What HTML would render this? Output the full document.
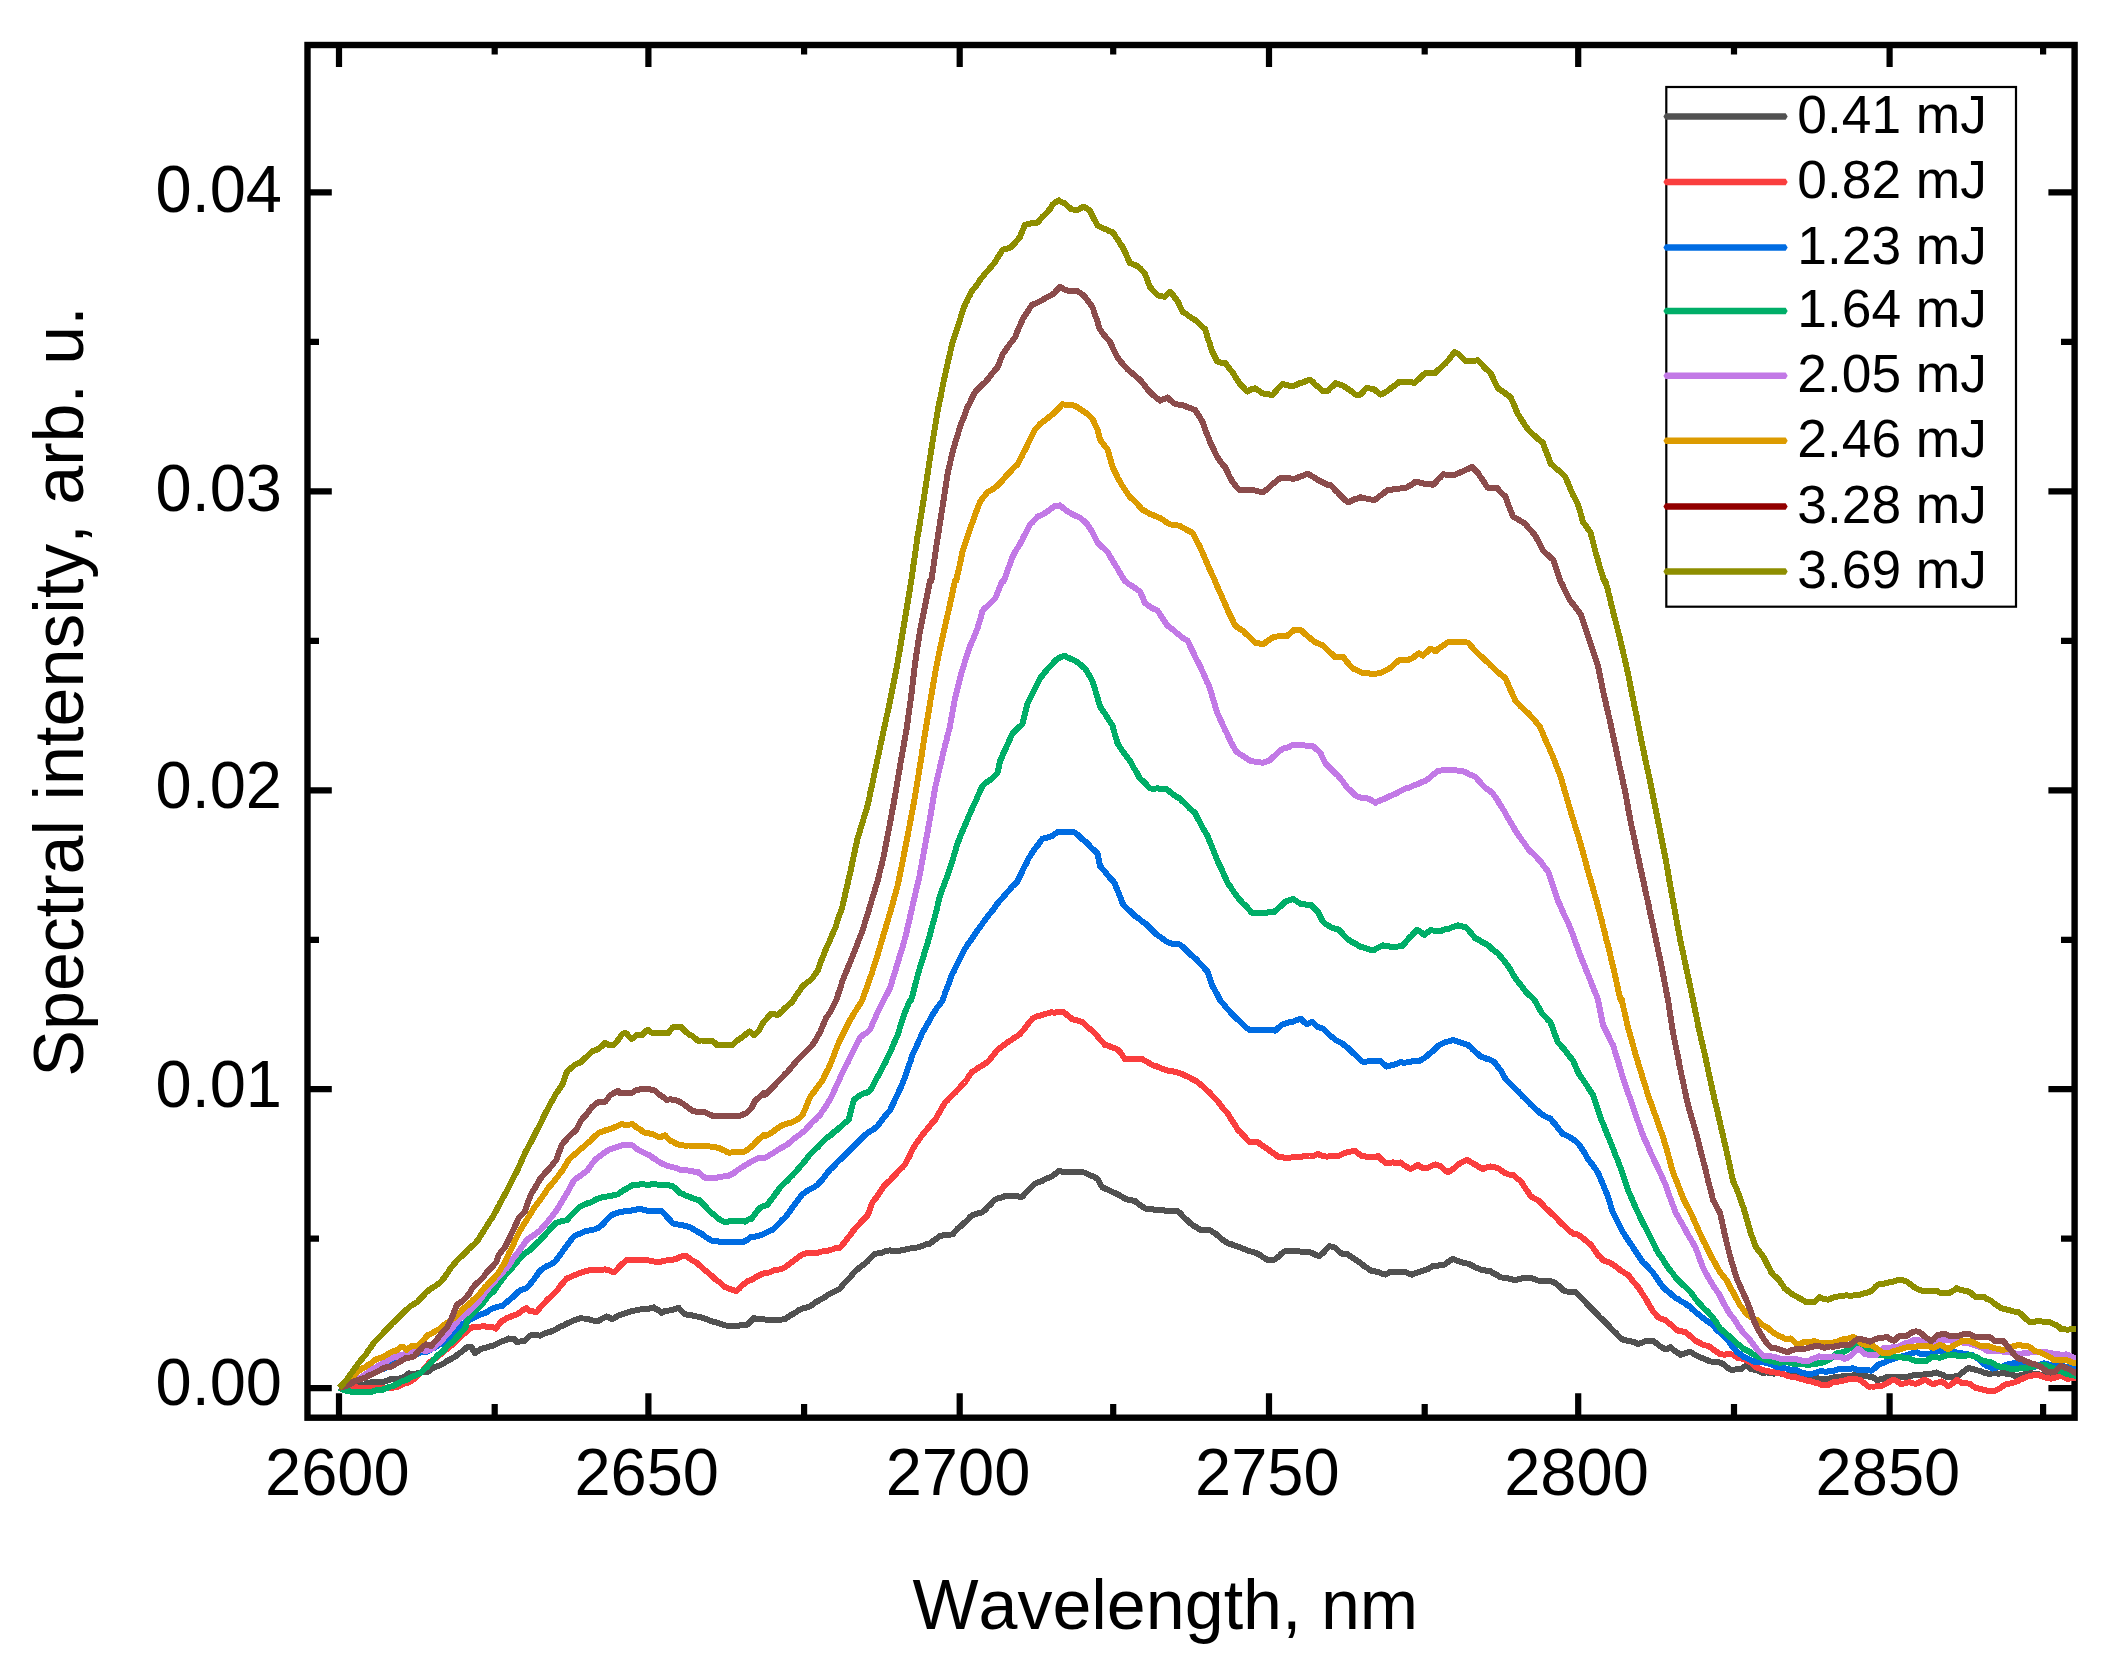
<!DOCTYPE html>
<html lang="en"><head><meta charset="utf-8"><title>Spectral intensity vs wavelength</title>
<style>html,body{margin:0;padding:0;background:#fff}body{width:2112px;height:1677px;overflow:hidden}svg{display:block}</style>
</head><body>
<svg width="2112" height="1677" viewBox="0 0 2112 1677">
<rect width="2112" height="1677" fill="#fff"/>
<path d="M339.0,1417.7V1393.2M339.0,45.0V66.9M494.7,1417.7V1404.0M494.7,45.0V54.4M648.4,1417.7V1393.2M648.4,45.0V66.9M804.1,1417.7V1404.0M804.1,45.0V54.4M959.7,1417.7V1393.2M959.7,45.0V66.9M1113.2,1417.7V1404.0M1113.2,45.0V54.4M1269.0,1417.7V1393.2M1269.0,45.0V66.9M1424.7,1417.7V1404.0M1424.7,45.0V54.4M1578.2,1417.7V1393.2M1578.2,45.0V66.9M1734.0,1417.7V1404.0M1734.0,45.0V54.4M1889.6,1417.7V1393.2M1889.6,45.0V66.9M2043.1,1417.7V1404.0M2043.1,45.0V54.4M307.5,1388.2H331.8M2074.6,1388.2H2048.4M307.5,1238.7H319.0M2074.6,1238.7H2061.0M307.5,1089.2H331.8M2074.6,1089.2H2048.4M307.5,939.8H319.0M2074.6,939.8H2061.0M307.5,790.3H331.8M2074.6,790.3H2048.4M307.5,640.8H319.0M2074.6,640.8H2061.0M307.5,491.4H331.8M2074.6,491.4H2048.4M307.5,341.9H319.0M2074.6,341.9H2061.0M307.5,192.4H331.8M2074.6,192.4H2048.4" stroke="#000" stroke-width="6.2" fill="none"/>
<rect x="307.5" y="45.0" width="1767.1" height="1372.7" fill="none" stroke="#000" stroke-width="6.4"/>
<clipPath id="c"><rect x="307.5" y="45.0" width="1768.5" height="1372.7"/></clipPath>
<g clip-path="url(#c)" fill="none" stroke-width="6.0" stroke-linejoin="round" stroke-linecap="butt" shape-rendering="crispEdges">
<polyline stroke="#515151" points="339.1,1387.9 342.6,1387.5 346.1,1387.5 349.7,1387.4 353.2,1386.4 356.7,1386.3 360.5,1385.4 364.4,1384.4 368.2,1382.9 372.0,1382.3 375.8,1382.2 379.6,1382.5 383.4,1381.9 387.3,1380.6 391.1,1379.1 394.9,1378.9 398.7,1378.6 402.5,1377.6 405.4,1376.1 408.2,1373.4 412.1,1373.6 415.9,1373.6 419.7,1372.5 423.5,1372.3 427.3,1371.8 429.9,1370.6 432.4,1368.4 435.0,1366.9 438.1,1366.0 441.3,1364.7 444.5,1363.0 447.4,1360.8 450.2,1359.5 452.8,1357.8 455.3,1356.6 457.9,1354.4 460.7,1352.4 463.6,1350.1 467.4,1347.0 471.2,1346.6 473.1,1350.0 475.0,1353.1 477.9,1351.2 480.8,1348.7 484.6,1348.3 488.4,1346.9 492.2,1345.8 496.0,1344.5 499.4,1342.5 502.7,1341.2 505.6,1340.2 508.4,1338.5 511.3,1338.7 514.2,1339.0 517.0,1342.2 520.8,1341.3 524.7,1341.1 527.3,1338.3 530.0,1335.5 533.3,1335.0 536.7,1335.3 540.0,1335.6 543.2,1334.1 546.3,1332.7 549.5,1332.1 552.6,1330.9 555.8,1329.4 559.4,1327.0 563.0,1325.7 566.6,1323.7 569.9,1322.3 573.2,1320.7 576.5,1319.5 579.8,1318.4 583.3,1318.5 586.9,1318.6 590.8,1320.0 594.8,1320.9 598.8,1320.7 602.6,1318.5 606.4,1316.4 609.2,1317.6 612.1,1319.3 614.9,1317.7 617.8,1315.6 621.6,1314.4 625.4,1313.1 629.2,1312.0 632.9,1310.9 636.9,1310.1 640.8,1309.4 644.8,1309.4 648.7,1308.7 651.2,1308.0 653.8,1307.3 656.3,1309.2 658.9,1310.4 661.4,1312.8 664.8,1311.2 668.2,1310.7 671.6,1310.0 675.0,1309.0 678.5,1307.7 681.3,1310.7 684.2,1313.8 687.9,1315.0 691.7,1315.4 695.5,1316.3 699.3,1316.9 703.1,1317.9 706.9,1319.3 710.7,1321.0 713.8,1321.9 716.9,1322.7 720.0,1323.7 722.9,1324.6 725.8,1325.5 728.8,1326.2 732.5,1326.5 736.2,1326.2 740.0,1325.4 743.8,1325.0 747.5,1324.6 750.6,1321.6 753.8,1318.2 757.5,1319.0 761.2,1319.3 765.0,1319.5 768.8,1320.2 772.5,1320.0 776.7,1319.7 780.8,1319.7 785.0,1319.0 787.8,1317.2 790.5,1315.2 793.2,1314.0 796.0,1312.2 798.8,1310.0 802.5,1308.6 806.2,1307.5 810.0,1306.3 812.9,1304.4 815.8,1302.2 818.8,1300.6 821.7,1298.9 824.6,1297.2 827.5,1295.1 830.6,1293.4 833.8,1291.9 836.9,1290.3 840.0,1288.7 842.5,1285.4 845.0,1282.5 847.5,1280.2 850.0,1277.5 852.5,1274.3 855.0,1271.5 858.3,1268.6 861.7,1266.0 865.0,1263.6 867.5,1261.4 870.0,1258.4 872.5,1256.1 875.0,1254.0 878.8,1253.1 882.5,1252.5 886.2,1250.8 890.0,1250.4 893.8,1251.2 897.5,1251.0 901.0,1250.4 904.5,1250.0 908.0,1248.8 911.5,1248.3 915.0,1247.9 918.8,1247.1 922.5,1245.8 926.2,1244.3 930.0,1243.6 933.3,1240.9 936.7,1238.6 940.0,1236.0 943.1,1235.3 946.2,1234.9 949.4,1234.7 952.5,1234.4 955.0,1231.6 957.5,1228.7 960.0,1226.8 962.5,1224.3 965.0,1222.2 967.5,1220.1 970.0,1217.1 972.5,1215.1 975.8,1214.0 979.2,1213.1 982.5,1212.2 985.0,1209.9 987.5,1207.2 990.0,1204.9 992.5,1202.2 995.0,1199.6 998.3,1198.3 1001.7,1197.5 1005.0,1196.0 1008.5,1195.8 1012.0,1195.9 1015.5,1195.8 1019.0,1196.6 1022.5,1196.7 1025.0,1193.6 1027.5,1191.0 1030.0,1188.6 1032.5,1186.2 1035.0,1183.6 1038.5,1182.2 1042.0,1181.0 1045.5,1179.0 1049.0,1177.7 1052.5,1175.9 1055.6,1173.6 1058.8,1171.0 1062.5,1171.7 1066.2,1172.1 1070.0,1172.5 1073.8,1172.2 1077.5,1172.4 1081.2,1172.1 1085.0,1172.6 1088.1,1174.4 1091.2,1175.7 1094.4,1177.0 1097.5,1178.9 1099.2,1181.9 1100.8,1184.9 1102.5,1187.5 1105.7,1188.8 1108.9,1190.3 1112.1,1191.8 1115.4,1193.2 1118.6,1194.8 1121.8,1196.8 1125.0,1198.5 1128.3,1199.9 1131.7,1200.4 1135.0,1200.9 1138.3,1204.0 1141.7,1206.0 1145.0,1208.5 1148.8,1209.2 1152.5,1209.3 1156.2,1210.1 1160.0,1210.5 1163.5,1210.3 1167.0,1210.9 1170.5,1211.4 1174.0,1211.3 1177.5,1211.0 1180.0,1213.0 1182.5,1215.8 1185.0,1218.4 1187.5,1220.6 1190.0,1222.9 1193.3,1225.5 1196.7,1227.5 1200.0,1229.7 1203.3,1230.3 1206.7,1230.5 1210.0,1230.2 1213.0,1232.1 1216.0,1234.1 1219.0,1236.6 1222.0,1239.4 1225.0,1241.3 1228.0,1243.5 1231.8,1244.4 1235.5,1246.0 1239.2,1246.9 1243.0,1248.7 1246.5,1250.0 1250.0,1251.2 1253.5,1252.2 1257.0,1253.4 1260.5,1255.3 1263.0,1257.2 1265.5,1258.8 1268.0,1259.9 1271.1,1259.7 1274.2,1259.7 1276.8,1258.0 1279.2,1256.1 1281.8,1253.4 1284.2,1251.4 1287.6,1251.2 1291.0,1251.2 1294.4,1250.9 1297.8,1251.3 1301.2,1251.6 1304.6,1251.9 1308.0,1251.5 1311.8,1253.0 1315.5,1254.8 1319.2,1255.9 1321.8,1254.0 1324.2,1251.6 1326.8,1248.7 1329.2,1246.1 1332.4,1246.8 1335.5,1247.8 1338.6,1251.0 1341.8,1253.7 1344.9,1254.2 1348.0,1254.4 1351.3,1256.9 1354.7,1259.0 1358.0,1261.4 1361.1,1263.4 1364.2,1266.1 1367.4,1268.0 1370.5,1270.5 1374.2,1271.2 1378.0,1272.0 1381.8,1273.5 1385.5,1274.6 1388.0,1273.3 1390.5,1271.8 1394.2,1271.8 1398.0,1272.1 1401.8,1271.9 1405.5,1272.0 1408.6,1273.6 1411.8,1274.7 1415.2,1273.4 1418.6,1272.2 1422.1,1270.9 1425.5,1269.9 1429.2,1268.4 1433.0,1265.9 1436.3,1265.7 1439.7,1265.4 1443.0,1265.4 1446.3,1263.3 1449.7,1260.8 1453.0,1258.8 1456.8,1260.5 1460.5,1261.9 1464.2,1263.1 1468.0,1263.6 1471.3,1265.2 1474.7,1267.0 1478.0,1268.5 1481.1,1269.6 1484.2,1270.1 1487.4,1271.2 1490.5,1271.0 1493.8,1273.5 1497.2,1275.1 1500.5,1277.4 1504.2,1277.7 1508.0,1278.4 1511.8,1279.4 1515.5,1280.5 1518.6,1279.1 1521.8,1278.5 1524.9,1277.6 1528.0,1277.5 1531.1,1278.1 1534.2,1278.9 1537.4,1280.4 1540.5,1280.8 1544.7,1281.5 1548.8,1281.1 1553.0,1281.7 1555.8,1283.6 1558.6,1285.8 1561.4,1288.5 1564.2,1291.0 1568.0,1291.7 1571.8,1291.9 1575.5,1292.2 1578.0,1294.4 1580.5,1296.9 1583.0,1299.3 1585.5,1302.1 1588.0,1305.2 1590.5,1307.6 1593.0,1309.9 1595.5,1312.4 1598.0,1315.2 1600.5,1317.9 1603.0,1319.8 1605.5,1322.6 1608.0,1324.8 1610.5,1327.8 1613.0,1330.3 1615.5,1332.7 1618.0,1335.3 1620.5,1337.8 1623.0,1339.8 1626.8,1340.6 1630.5,1341.2 1634.2,1342.2 1638.0,1343.9 1641.8,1342.7 1645.5,1341.0 1649.2,1340.9 1653.0,1341.0 1656.1,1342.9 1659.2,1345.7 1662.4,1347.7 1665.5,1349.5 1668.0,1348.6 1670.5,1347.3 1673.8,1350.2 1677.2,1352.4 1680.5,1354.7 1683.7,1353.8 1686.8,1352.8 1690.0,1351.5 1693.0,1353.5 1696.1,1355.4 1699.5,1357.0 1702.9,1358.4 1706.3,1359.7 1709.7,1361.4 1712.7,1361.7 1715.8,1362.1 1718.8,1362.4 1721.8,1363.1 1724.1,1364.9 1726.4,1366.9 1730.2,1369.6 1733.9,1369.6 1737.7,1369.2 1741.5,1368.9 1744.5,1366.4 1748.3,1366.3 1750.6,1368.8 1754.4,1369.7 1758.2,1370.5 1762.7,1372.8 1766.3,1372.4 1769.8,1372.9 1773.3,1373.6 1778.6,1373.2 1782.1,1373.9 1785.6,1374.9 1789.1,1374.7 1792.6,1375.2 1796.1,1375.9 1799.8,1376.4 1803.6,1376.4 1807.4,1377.4 1811.2,1377.9 1814.7,1378.2 1818.3,1378.5 1821.8,1378.9 1825.6,1379.5 1830.2,1378.3 1833.4,1377.4 1836.7,1376.9 1840.0,1376.7 1843.4,1376.3 1846.8,1375.9 1850.0,1376.0 1853.2,1375.4 1856.4,1375.3 1860.2,1375.8 1864.0,1376.4 1867.9,1376.5 1871.7,1376.6 1874.3,1378.2 1876.8,1380.3 1880.2,1379.3 1883.6,1378.5 1887.0,1376.9 1890.5,1376.9 1893.9,1377.4 1897.3,1377.3 1900.7,1376.8 1904.1,1377.1 1907.5,1376.6 1910.9,1375.8 1914.3,1375.2 1917.7,1375.2 1921.1,1374.8 1925.4,1374.3 1929.7,1374.4 1933.1,1373.2 1936.5,1372.5 1939.5,1373.8 1942.4,1374.6 1945.4,1376.5 1948.4,1377.5 1951.8,1376.7 1955.2,1376.4 1958.6,1375.6 1961.2,1373.5 1963.8,1371.5 1966.3,1369.5 1968.9,1367.9 1973.1,1369.2 1977.4,1370.4 1980.8,1371.2 1984.2,1372.7 1987.6,1373.6 1991.3,1373.6 1995.0,1373.0 1998.7,1373.7 2002.4,1373.1 2006.1,1373.6 2009.8,1373.7 2013.2,1375.2 2016.6,1376.7 2019.4,1375.7 2022.3,1374.7 2025.1,1373.9 2028.5,1373.4 2031.9,1373.4 2035.3,1374.2 2038.8,1374.4 2042.2,1375.0 2045.6,1375.2 2049.0,1375.1 2052.4,1376.1 2056.2,1375.7 2060.1,1375.7 2063.9,1376.1 2067.7,1376.5 2071.6,1376.6 2075.4,1376.8 2077.5,1376.2"/>
<polyline stroke="#FA3E3E" points="339.1,1387.9 342.8,1387.4 346.5,1387.7 350.2,1387.4 353.9,1387.0 357.7,1387.5 361.5,1387.8 365.3,1388.0 368.5,1388.1 371.8,1388.0 375.0,1388.0 378.3,1388.5 381.5,1388.4 385.3,1388.2 389.2,1387.9 393.0,1387.6 396.8,1387.3 400.6,1385.2 404.4,1383.5 408.2,1382.5 412.1,1380.3 415.9,1377.6 418.7,1374.7 421.6,1371.8 424.1,1369.1 426.7,1365.8 429.2,1362.9 432.1,1360.3 435.0,1358.8 437.8,1356.2 440.7,1354.2 443.5,1351.7 446.4,1349.4 449.3,1347.0 452.1,1344.8 455.0,1342.3 457.9,1339.6 461.7,1336.0 464.5,1333.3 467.4,1330.9 470.3,1328.5 473.1,1326.9 476.9,1327.0 480.8,1326.5 484.6,1326.4 488.4,1326.8 492.2,1326.8 496.0,1328.6 498.4,1325.3 500.8,1321.7 503.7,1320.2 506.5,1318.3 509.7,1317.1 512.9,1315.6 516.1,1314.7 518.6,1313.3 521.2,1311.5 523.7,1309.4 526.6,1308.2 530.0,1311.0 533.1,1311.3 536.2,1312.3 538.5,1309.7 540.8,1306.8 543.0,1304.7 545.3,1302.0 547.6,1299.5 550.3,1297.1 553.0,1294.5 555.8,1291.7 557.9,1289.4 560.1,1286.2 562.2,1283.7 564.4,1281.3 566.6,1278.4 569.9,1277.4 573.3,1275.6 576.7,1274.3 580.1,1272.9 583.5,1271.7 586.9,1270.8 590.4,1270.2 594.0,1270.0 597.6,1270.5 601.1,1270.0 604.7,1269.4 608.3,1270.1 611.1,1271.4 614.0,1272.2 616.6,1269.8 619.3,1266.9 621.9,1264.2 624.6,1262.0 627.3,1259.5 630.8,1259.5 634.4,1259.6 638.0,1259.9 641.5,1259.9 645.1,1259.7 648.7,1260.4 651.7,1261.2 654.6,1261.6 657.6,1262.1 661.4,1261.5 665.2,1260.7 669.0,1259.9 672.8,1259.7 676.1,1259.0 679.4,1257.3 682.7,1256.1 686.1,1255.6 688.7,1257.9 691.4,1259.8 694.0,1261.2 696.7,1262.7 699.3,1265.1 702.2,1267.8 705.0,1270.2 707.9,1272.5 710.7,1275.1 713.0,1276.9 715.4,1279.3 717.7,1280.9 720.0,1282.6 723.8,1286.4 726.9,1287.8 730.0,1289.2 733.1,1289.8 736.2,1291.0 739.1,1288.7 741.9,1285.8 744.7,1283.4 747.5,1281.2 750.5,1280.2 753.5,1278.7 756.5,1276.8 759.5,1275.2 762.5,1273.7 766.2,1273.0 770.0,1272.3 773.8,1270.4 777.5,1269.9 781.2,1269.0 785.0,1267.2 788.1,1264.9 791.2,1262.5 794.4,1260.2 797.5,1257.8 800.6,1255.5 803.8,1253.7 807.2,1253.3 810.6,1252.6 814.1,1253.0 817.5,1252.9 821.2,1251.6 825.0,1251.2 828.8,1250.4 832.5,1249.4 836.2,1248.0 840.0,1247.6 842.1,1245.2 844.3,1242.6 846.4,1240.1 848.6,1236.8 850.7,1234.5 852.9,1231.3 855.0,1228.6 857.5,1225.9 860.0,1223.3 862.5,1220.6 865.0,1218.1 867.5,1215.4 868.8,1212.3 870.0,1209.1 871.2,1205.7 872.5,1202.2 874.6,1199.6 876.7,1197.0 878.8,1193.7 880.8,1191.2 882.9,1187.7 885.0,1184.8 887.5,1182.6 890.0,1180.3 892.5,1177.7 895.0,1174.9 897.5,1172.2 900.0,1169.6 902.5,1167.4 905.0,1164.5 906.7,1161.2 908.3,1158.3 910.0,1154.9 911.7,1151.3 913.3,1148.1 915.0,1145.2 917.5,1141.8 920.0,1138.2 922.5,1134.6 925.0,1131.8 927.5,1128.7 930.0,1125.7 932.5,1122.5 935.0,1119.9 936.7,1117.2 938.3,1114.2 940.0,1111.4 941.7,1108.2 943.3,1105.7 945.0,1102.5 947.5,1100.4 950.0,1097.2 952.5,1095.0 955.0,1092.8 957.5,1090.2 960.0,1087.3 962.5,1084.6 964.5,1082.5 966.5,1080.0 968.5,1076.8 970.5,1073.9 972.5,1071.5 975.5,1070.0 978.5,1067.5 981.5,1065.9 984.5,1064.0 987.5,1062.0 990.0,1059.3 992.5,1056.2 995.0,1052.9 997.5,1050.1 1000.3,1047.8 1003.1,1045.7 1005.9,1043.6 1008.8,1041.4 1011.6,1040.0 1014.4,1037.7 1017.2,1036.2 1020.0,1034.1 1022.5,1030.9 1025.0,1028.2 1027.5,1024.8 1030.0,1021.4 1032.5,1018.7 1036.2,1016.6 1040.0,1015.7 1043.8,1014.3 1047.5,1013.4 1051.2,1012.4 1055.0,1012.6 1058.8,1011.6 1062.5,1011.7 1065.8,1013.9 1069.2,1016.7 1072.5,1019.3 1075.8,1019.9 1079.2,1021.0 1082.5,1022.3 1085.0,1024.3 1087.5,1027.1 1090.0,1028.9 1092.5,1030.9 1095.0,1033.6 1097.5,1036.3 1100.0,1039.6 1102.5,1042.0 1105.0,1045.0 1108.1,1045.5 1111.2,1047.0 1114.4,1048.2 1117.5,1049.4 1120.0,1052.0 1122.5,1055.5 1125.0,1059.0 1128.5,1058.7 1132.0,1058.9 1135.5,1058.6 1139.0,1058.8 1142.5,1059.2 1145.0,1060.9 1147.5,1062.1 1150.0,1063.5 1153.0,1065.4 1156.0,1066.1 1159.0,1067.4 1162.0,1068.6 1165.0,1069.8 1168.5,1070.7 1172.0,1071.1 1175.5,1072.0 1179.0,1073.1 1182.5,1074.2 1185.5,1075.7 1188.5,1077.1 1191.5,1078.7 1194.5,1080.3 1197.5,1081.9 1200.6,1084.6 1203.8,1087.2 1206.9,1090.3 1210.0,1092.9 1212.2,1095.7 1214.5,1098.0 1216.8,1100.3 1219.0,1103.1 1221.2,1105.9 1223.5,1108.9 1225.8,1111.1 1228.0,1114.0 1230.0,1117.4 1232.0,1120.4 1234.0,1123.6 1236.0,1126.5 1238.0,1130.0 1240.8,1132.4 1243.6,1135.7 1246.4,1138.7 1249.2,1141.7 1253.6,1142.4 1258.0,1142.3 1261.3,1144.9 1264.7,1147.0 1268.0,1149.3 1271.3,1151.9 1274.7,1154.0 1278.0,1156.7 1282.4,1157.0 1286.8,1158.5 1291.1,1157.5 1295.5,1156.8 1299.0,1156.5 1302.5,1156.5 1306.0,1156.1 1309.5,1156.5 1313.0,1156.4 1315.5,1154.8 1318.0,1153.9 1320.5,1155.2 1323.0,1156.2 1326.8,1156.6 1330.5,1156.3 1334.2,1156.5 1338.0,1156.4 1341.3,1154.7 1344.7,1153.1 1348.0,1151.8 1351.8,1151.4 1355.5,1151.2 1358.6,1153.6 1361.8,1156.3 1365.1,1156.3 1368.4,1157.2 1371.8,1157.4 1374.9,1157.3 1378.0,1156.0 1380.5,1158.6 1383.0,1160.8 1385.5,1163.0 1389.2,1162.9 1393.0,1162.4 1396.8,1163.0 1400.5,1162.4 1403.8,1165.0 1407.2,1167.1 1410.5,1169.1 1414.2,1167.0 1418.0,1164.7 1421.1,1167.0 1424.2,1168.5 1428.0,1167.7 1431.8,1165.9 1435.5,1164.4 1440.5,1166.1 1443.0,1168.7 1445.5,1170.7 1448.0,1172.3 1451.3,1170.3 1454.7,1167.8 1458.0,1164.7 1460.9,1162.8 1463.8,1161.3 1466.8,1159.9 1470.5,1161.9 1474.2,1164.1 1477.2,1165.7 1480.1,1167.7 1483.0,1168.9 1486.8,1167.4 1490.5,1166.4 1493.6,1167.4 1496.8,1167.6 1499.7,1169.2 1502.6,1171.4 1505.5,1173.3 1509.2,1174.6 1513.0,1174.9 1515.5,1177.0 1518.0,1179.2 1520.5,1180.9 1522.5,1183.8 1524.5,1187.0 1526.5,1190.0 1528.5,1192.8 1530.5,1196.2 1534.2,1198.4 1538.0,1200.2 1540.5,1202.3 1543.0,1205.2 1545.5,1208.0 1548.0,1209.9 1550.5,1212.6 1553.0,1214.7 1555.5,1217.0 1558.0,1219.6 1560.5,1222.7 1563.0,1224.8 1565.5,1227.1 1568.0,1229.6 1570.5,1231.6 1573.0,1233.6 1578.0,1234.5 1581.1,1236.7 1584.2,1239.3 1587.4,1241.9 1590.5,1244.4 1592.4,1246.7 1594.2,1249.5 1596.1,1252.1 1598.0,1255.0 1600.5,1257.1 1603.0,1260.2 1606.8,1261.6 1610.5,1262.9 1613.8,1265.3 1617.2,1267.5 1620.5,1270.3 1623.0,1271.8 1625.5,1273.6 1628.0,1274.9 1630.5,1277.8 1633.0,1281.3 1635.5,1284.2 1638.0,1287.1 1639.9,1290.0 1641.8,1292.9 1643.6,1295.6 1645.5,1298.3 1647.4,1301.8 1649.2,1305.0 1651.1,1308.1 1653.0,1311.4 1655.5,1314.1 1658.0,1317.4 1661.8,1319.2 1665.5,1320.0 1668.0,1322.4 1670.5,1324.3 1673.0,1326.5 1675.5,1328.9 1678.0,1330.9 1681.8,1331.4 1685.5,1332.1 1687.8,1334.1 1690.0,1335.9 1693.0,1338.6 1696.1,1341.1 1699.5,1342.8 1702.9,1344.6 1706.3,1345.6 1709.7,1346.6 1712.3,1348.8 1715.0,1350.7 1717.7,1352.5 1720.3,1354.1 1724.3,1354.7 1728.4,1354.0 1732.4,1354.6 1734.7,1355.7 1737.0,1357.7 1740.0,1357.7 1743.0,1358.9 1746.1,1360.3 1749.1,1361.9 1752.9,1363.7 1756.7,1367.6 1759.7,1368.7 1762.7,1370.1 1768.0,1371.1 1773.3,1372.3 1777.1,1372.8 1780.9,1373.5 1784.7,1374.5 1788.5,1376.4 1792.3,1376.7 1796.1,1377.2 1799.1,1378.4 1802.1,1379.1 1805.2,1380.0 1808.2,1381.2 1811.6,1381.4 1815.0,1382.6 1818.0,1383.2 1821.1,1384.8 1824.8,1385.1 1828.6,1384.9 1831.3,1383.3 1833.9,1381.8 1837.7,1381.7 1841.5,1381.1 1845.8,1380.1 1850.0,1378.7 1853.3,1378.6 1856.5,1379.4 1859.8,1379.7 1862.6,1381.9 1865.5,1384.2 1868.3,1386.6 1871.7,1386.5 1875.1,1386.5 1878.5,1385.9 1881.9,1385.6 1884.9,1384.5 1887.9,1382.8 1890.9,1380.9 1893.9,1379.6 1897.3,1381.6 1900.7,1383.8 1904.9,1383.4 1909.2,1382.2 1912.6,1383.3 1916.0,1383.9 1918.9,1382.5 1921.7,1381.2 1924.5,1379.6 1927.4,1381.0 1930.2,1382.7 1933.1,1384.2 1937.3,1382.7 1941.6,1381.5 1945.0,1383.6 1948.4,1386.3 1951.2,1384.3 1954.1,1382.1 1956.9,1380.0 1959.5,1381.4 1962.0,1383.3 1966.3,1383.2 1970.6,1384.0 1973.1,1386.3 1975.7,1388.0 1979.9,1388.8 1984.2,1390.1 1987.6,1390.7 1991.0,1391.0 1994.4,1390.9 1997.4,1389.6 2000.4,1388.1 2003.4,1385.8 2006.4,1384.1 2010.6,1383.4 2014.9,1382.3 2017.7,1381.1 2020.6,1379.5 2023.4,1378.3 2027.7,1376.6 2031.9,1375.8 2035.3,1374.6 2038.8,1374.6 2041.3,1376.1 2043.9,1377.3 2047.3,1377.9 2050.7,1378.7 2054.1,1377.9 2057.5,1376.7 2060.9,1375.5 2064.3,1377.4 2067.7,1379.0 2071.6,1378.1 2075.4,1377.6 2077.5,1377.6"/>
<polyline stroke="#006CE2" points="339.1,1387.9 342.3,1386.7 345.6,1385.5 348.8,1383.9 352.1,1382.4 355.4,1380.8 358.6,1380.0 361.8,1378.2 365.0,1376.5 368.2,1375.1 371.3,1373.8 374.5,1372.6 377.7,1371.2 380.9,1369.7 384.1,1368.5 387.3,1367.3 390.4,1366.0 393.6,1364.2 396.8,1362.4 400.0,1360.9 403.2,1359.7 406.3,1358.1 409.5,1357.2 412.7,1356.2 415.9,1354.6 420.6,1352.2 425.4,1352.2 428.6,1350.8 431.8,1349.0 435.0,1347.5 437.8,1345.4 440.7,1344.1 443.5,1342.5 446.4,1340.7 449.3,1338.0 452.1,1334.5 455.0,1331.7 457.2,1329.6 459.5,1327.5 461.7,1325.0 464.9,1322.7 468.0,1321.1 471.2,1318.8 475.0,1317.3 478.9,1314.9 482.7,1313.7 486.5,1312.4 489.4,1310.2 492.2,1308.5 495.4,1307.7 498.6,1306.6 501.8,1306.2 505.1,1303.5 508.4,1300.7 510.8,1298.7 513.2,1296.8 515.4,1294.7 517.7,1292.3 519.9,1290.5 523.2,1289.3 526.6,1288.1 530.0,1284.4 532.0,1281.8 534.0,1279.3 536.0,1276.4 538.0,1273.4 540.0,1270.8 543.2,1268.4 546.3,1266.4 549.5,1265.0 552.6,1263.3 555.8,1260.9 557.9,1257.7 560.1,1254.9 562.2,1252.1 564.4,1248.7 566.6,1245.8 569.1,1242.6 571.6,1239.2 574.1,1236.1 577.3,1234.7 580.5,1233.5 583.7,1231.8 586.9,1230.8 590.8,1230.3 594.8,1229.3 598.8,1227.7 601.5,1225.4 604.1,1222.8 606.8,1219.7 609.4,1217.1 612.1,1214.8 614.9,1213.8 617.8,1212.6 621.6,1211.8 625.4,1211.2 629.2,1211.1 632.9,1210.0 636.7,1209.5 640.5,1208.6 644.6,1210.1 648.7,1211.2 651.9,1210.7 655.0,1210.5 658.2,1210.8 661.4,1211.2 663.7,1213.2 665.9,1215.6 668.2,1218.2 670.5,1220.6 672.8,1223.5 676.3,1224.1 679.8,1224.9 683.9,1225.6 687.9,1226.5 690.8,1227.7 693.6,1229.4 696.5,1231.0 699.3,1232.7 702.2,1234.2 705.0,1236.7 707.9,1238.2 710.7,1240.2 713.8,1241.1 716.9,1241.2 720.0,1241.8 724.2,1241.5 728.3,1241.7 732.5,1241.8 735.8,1241.9 739.2,1242.1 742.5,1242.3 745.0,1241.1 747.5,1239.7 750.0,1237.4 753.1,1237.0 756.2,1236.3 759.4,1235.6 762.5,1234.5 765.8,1233.0 769.2,1231.3 772.5,1229.7 775.0,1227.4 777.5,1224.9 780.0,1222.3 782.5,1219.7 785.0,1217.8 787.2,1214.6 789.4,1212.0 791.6,1208.5 793.8,1205.7 795.9,1202.7 798.1,1199.9 800.3,1196.8 802.5,1194.1 805.5,1192.2 808.5,1189.9 811.5,1188.5 814.5,1186.9 817.5,1184.8 820.0,1182.1 822.5,1179.3 825.0,1176.0 827.5,1172.7 830.0,1169.7 832.5,1167.4 835.0,1164.9 837.5,1162.1 840.0,1159.8 842.5,1157.4 845.0,1155.0 847.5,1152.4 850.0,1150.2 852.5,1147.7 855.0,1144.9 857.5,1142.3 860.0,1140.3 862.5,1137.4 865.0,1134.9 868.1,1132.6 871.2,1130.6 874.4,1128.7 877.5,1126.0 879.6,1123.2 881.7,1120.3 883.8,1117.6 885.8,1115.2 887.9,1112.6 890.0,1110.3 891.5,1107.1 893.0,1104.1 894.5,1100.7 896.0,1097.7 897.5,1094.7 899.0,1091.2 900.5,1088.1 902.0,1084.5 903.5,1080.7 905.0,1077.4 906.1,1074.0 907.1,1070.8 908.2,1067.8 909.3,1064.4 910.4,1061.5 911.4,1058.2 912.5,1054.7 913.9,1051.8 915.4,1048.9 916.8,1045.7 918.2,1042.5 919.6,1039.4 921.1,1035.8 922.5,1032.5 924.2,1029.8 925.8,1026.7 927.5,1024.1 929.2,1020.9 930.8,1017.6 932.5,1014.6 934.5,1011.7 936.5,1008.5 938.5,1005.9 940.5,1003.3 942.5,1000.5 943.8,997.2 945.0,993.5 946.2,989.9 947.5,986.4 948.8,983.6 950.0,979.9 951.2,976.4 952.5,973.4 954.1,970.7 955.6,967.4 957.2,963.9 958.8,960.6 960.3,957.9 961.9,954.9 963.4,951.6 965.0,948.8 967.2,945.3 969.4,942.0 971.6,939.4 973.8,935.8 975.9,932.7 978.1,929.4 980.3,926.6 982.5,923.5 984.6,920.4 986.8,917.8 988.9,914.6 991.1,912.3 993.2,909.6 995.4,906.3 997.5,903.5 1000.0,900.5 1002.5,897.9 1005.0,894.9 1007.5,891.9 1010.0,889.3 1012.5,886.2 1015.0,884.0 1017.5,881.3 1019.1,877.8 1020.6,874.8 1022.2,871.4 1023.8,868.2 1025.3,865.1 1026.9,862.3 1028.4,858.8 1030.0,856.2 1032.1,853.0 1034.2,849.8 1036.2,847.1 1038.3,844.6 1040.4,841.5 1042.5,838.6 1045.8,838.2 1049.2,837.1 1052.5,836.0 1055.0,833.8 1057.5,832.1 1061.0,832.3 1064.5,832.4 1068.0,832.0 1071.5,831.6 1075.0,832.5 1077.5,834.7 1080.0,837.1 1082.5,839.3 1085.0,841.2 1087.5,843.3 1090.0,846.3 1092.5,849.0 1095.0,850.8 1097.5,853.5 1098.1,856.6 1098.8,859.5 1099.4,862.8 1100.0,866.0 1102.5,868.9 1105.0,871.6 1107.5,875.0 1110.0,877.9 1112.5,880.5 1115.0,883.7 1116.2,887.2 1117.5,890.3 1118.8,893.6 1120.0,896.6 1121.2,899.8 1122.5,903.6 1125.0,906.4 1127.5,909.1 1130.0,910.9 1132.5,913.7 1135.0,916.0 1138.3,918.2 1141.7,921.2 1145.0,923.2 1147.5,925.5 1150.0,928.1 1152.5,930.5 1155.0,933.2 1158.0,935.5 1161.0,937.5 1164.0,939.9 1167.0,941.7 1170.0,943.2 1173.3,943.8 1176.7,943.8 1180.0,944.7 1182.5,946.7 1185.0,949.2 1187.5,951.5 1190.0,954.2 1192.5,956.0 1195.0,958.2 1197.5,960.7 1200.0,963.4 1202.5,965.8 1205.0,968.9 1207.5,971.5 1208.8,975.3 1210.0,978.8 1211.2,982.6 1212.5,986.2 1214.4,989.4 1216.2,992.7 1218.1,996.1 1220.0,1000.0 1222.0,1002.7 1224.0,1004.7 1226.0,1007.2 1228.0,1009.5 1230.5,1012.3 1233.0,1014.8 1235.5,1017.4 1238.0,1019.8 1240.8,1022.3 1243.6,1024.9 1246.4,1027.7 1249.2,1029.7 1253.0,1030.1 1256.8,1030.2 1260.5,1030.4 1264.2,1029.8 1268.0,1029.7 1271.8,1030.3 1275.5,1030.6 1278.6,1027.6 1281.8,1024.9 1285.5,1023.5 1289.2,1022.2 1293.0,1021.6 1296.8,1020.2 1300.5,1018.7 1303.6,1021.6 1306.8,1024.0 1309.2,1023.1 1311.8,1021.7 1314.9,1024.5 1318.0,1027.2 1323.0,1028.6 1325.5,1031.0 1328.0,1033.3 1330.5,1035.9 1333.0,1037.8 1335.5,1040.1 1338.6,1041.6 1341.8,1043.1 1344.7,1045.6 1347.6,1047.5 1350.5,1050.3 1353.3,1053.1 1356.1,1055.6 1358.9,1058.5 1361.8,1061.5 1365.5,1061.7 1369.2,1061.2 1373.0,1061.2 1376.8,1061.4 1380.5,1061.0 1383.6,1063.9 1386.8,1066.6 1390.2,1065.5 1393.6,1065.0 1397.1,1063.5 1400.5,1062.3 1404.2,1062.7 1408.0,1062.3 1411.8,1061.4 1415.5,1061.2 1419.2,1060.9 1422.2,1059.3 1425.1,1057.6 1428.0,1054.9 1430.5,1052.9 1433.0,1051.0 1435.5,1048.3 1438.0,1046.1 1441.8,1043.8 1445.5,1042.1 1449.2,1041.2 1453.0,1040.2 1456.8,1041.1 1460.5,1042.6 1464.2,1043.9 1468.0,1044.9 1470.5,1047.2 1473.0,1049.8 1475.5,1052.1 1478.0,1054.1 1480.5,1056.6 1483.6,1057.6 1486.8,1058.8 1489.9,1059.7 1493.0,1061.1 1495.5,1063.7 1498.0,1067.2 1500.5,1069.9 1502.2,1072.8 1503.8,1076.0 1505.5,1079.0 1508.0,1081.3 1510.5,1084.1 1513.0,1086.5 1515.5,1089.2 1518.0,1091.2 1520.5,1094.0 1523.0,1096.8 1525.5,1098.9 1528.0,1101.5 1530.5,1104.3 1533.0,1106.6 1535.5,1109.1 1538.0,1111.1 1540.5,1113.3 1543.8,1115.6 1547.2,1117.4 1550.5,1118.5 1553.0,1121.9 1555.5,1124.5 1558.0,1127.9 1560.5,1131.2 1563.0,1134.0 1566.3,1135.3 1569.7,1137.3 1573.0,1139.2 1575.5,1141.2 1578.0,1143.7 1580.5,1146.4 1582.4,1149.6 1584.2,1152.2 1586.1,1155.7 1588.0,1158.9 1590.0,1161.8 1592.0,1164.1 1594.0,1166.9 1596.0,1169.8 1598.0,1172.8 1599.5,1176.1 1601.0,1179.8 1602.5,1183.2 1604.0,1186.9 1605.5,1190.5 1606.6,1193.2 1607.6,1196.2 1608.7,1199.4 1609.8,1202.8 1610.9,1206.2 1611.9,1209.4 1613.0,1212.5 1614.7,1215.6 1616.3,1219.0 1618.0,1222.8 1619.7,1225.7 1621.3,1228.9 1623.0,1232.4 1625.0,1235.2 1627.0,1238.6 1629.0,1241.5 1631.0,1244.2 1633.0,1247.3 1635.0,1250.6 1637.0,1253.6 1639.0,1256.3 1641.0,1259.8 1643.0,1262.3 1645.5,1264.5 1648.0,1267.0 1650.5,1270.1 1653.0,1272.6 1655.0,1275.7 1657.0,1278.5 1659.0,1281.4 1661.0,1284.4 1663.0,1287.2 1666.1,1290.0 1669.2,1292.3 1672.4,1295.3 1675.5,1297.9 1678.4,1299.2 1681.3,1301.5 1684.2,1302.7 1687.1,1305.0 1690.0,1306.6 1692.3,1309.1 1694.5,1311.2 1697.2,1313.3 1699.8,1315.5 1702.9,1317.9 1705.9,1320.2 1708.9,1322.1 1712.0,1324.5 1714.7,1327.4 1717.5,1330.5 1720.3,1332.8 1722.8,1335.2 1725.4,1337.6 1727.9,1340.3 1730.2,1343.4 1732.4,1346.5 1734.7,1348.9 1737.0,1352.1 1740.0,1353.9 1743.0,1356.5 1746.1,1357.7 1749.1,1359.4 1751.7,1360.5 1754.4,1361.7 1758.2,1361.7 1762.0,1362.1 1765.8,1362.7 1769.5,1364.0 1773.3,1365.1 1777.1,1367.1 1780.9,1367.6 1784.7,1368.1 1788.5,1369.3 1792.3,1370.0 1796.1,1369.9 1799.1,1371.3 1802.1,1373.3 1805.2,1373.4 1808.2,1374.1 1811.6,1373.7 1815.0,1373.3 1818.8,1371.5 1822.6,1371.4 1826.4,1371.7 1830.2,1370.8 1833.9,1370.8 1837.7,1369.3 1841.8,1368.8 1845.9,1368.9 1850.0,1368.8 1853.0,1368.3 1856.4,1369.4 1859.8,1370.3 1863.8,1370.1 1867.7,1370.4 1871.7,1370.6 1875.1,1367.9 1878.5,1364.7 1881.4,1363.4 1884.2,1362.8 1887.0,1361.3 1890.5,1359.8 1893.9,1358.6 1897.8,1357.3 1901.8,1356.4 1905.8,1355.4 1909.2,1354.4 1912.6,1353.1 1916.0,1351.8 1921.1,1354.2 1925.4,1353.9 1929.7,1354.4 1932.2,1352.7 1934.8,1351.0 1939.0,1350.9 1943.3,1351.0 1947.1,1352.1 1951.0,1352.3 1954.8,1352.2 1958.6,1352.7 1962.0,1353.4 1965.5,1354.3 1968.9,1354.5 1972.3,1355.2 1975.1,1356.7 1978.0,1358.6 1980.8,1360.5 1983.4,1363.4 1985.9,1365.5 1989.3,1367.0 1992.7,1368.6 1997.0,1367.5 2001.2,1366.9 2004.1,1366.1 2006.9,1364.6 2009.8,1363.8 2013.2,1363.3 2016.6,1363.1 2019.1,1364.2 2021.7,1365.7 2025.7,1365.7 2029.7,1366.6 2033.6,1367.1 2037.0,1365.9 2040.5,1364.7 2043.9,1363.2 2048.1,1364.3 2052.4,1365.9 2056.2,1366.0 2060.1,1366.4 2063.9,1366.3 2067.7,1366.9 2071.6,1367.6 2075.4,1367.8 2077.5,1367.4"/>
<polyline stroke="#00AE68" points="339.1,1387.9 343.1,1389.8 347.2,1391.2 350.4,1391.5 353.5,1391.9 356.7,1391.6 360.5,1391.6 364.4,1391.9 368.2,1392.0 372.0,1391.6 375.3,1390.5 378.7,1389.9 382.0,1389.9 385.3,1388.6 389.2,1387.0 393.0,1386.0 396.8,1384.2 399.9,1382.4 403.0,1380.9 406.1,1380.1 409.2,1378.3 412.1,1376.8 414.9,1375.6 417.8,1374.4 420.6,1372.8 423.5,1369.8 426.4,1367.5 429.2,1364.5 431.4,1362.1 433.5,1359.7 435.7,1357.8 437.8,1355.2 441.2,1352.7 444.5,1349.5 446.7,1347.0 449.0,1344.6 451.2,1343.0 453.7,1340.8 456.3,1337.8 458.8,1335.1 461.0,1332.3 463.3,1330.2 465.5,1327.6 466.5,1323.2 467.4,1319.1 469.9,1316.7 472.5,1314.1 475.0,1311.2 477.6,1309.0 480.1,1306.5 482.7,1303.9 484.6,1300.8 486.5,1298.4 488.4,1295.7 491.3,1293.3 494.1,1291.2 496.0,1288.4 497.9,1285.5 499.8,1282.6 501.8,1280.0 503.7,1277.2 506.2,1274.3 508.8,1271.9 511.3,1269.1 514.2,1265.2 517.0,1262.2 519.2,1259.1 521.5,1256.9 523.7,1254.2 526.9,1252.1 530.0,1250.0 532.5,1247.5 535.0,1245.3 537.5,1242.4 540.0,1240.4 542.6,1237.2 545.3,1234.5 547.9,1231.6 550.5,1228.5 553.1,1226.1 555.8,1222.9 559.4,1221.9 563.0,1220.7 566.6,1220.3 569.2,1217.6 571.9,1214.6 574.5,1211.8 577.2,1209.3 579.8,1206.9 583.3,1205.1 586.9,1203.5 589.8,1202.7 592.8,1201.4 595.8,1199.6 598.8,1198.3 602.6,1197.3 606.4,1196.6 610.2,1196.0 614.0,1195.1 617.8,1194.3 620.8,1192.2 623.8,1190.2 626.9,1188.4 629.9,1186.8 632.9,1184.7 636.9,1184.7 640.8,1184.4 644.8,1184.5 648.7,1185.2 651.2,1184.3 653.8,1183.8 657.6,1184.6 661.4,1184.6 665.2,1185.0 669.0,1185.4 672.8,1186.4 675.1,1188.2 677.5,1190.4 679.8,1193.1 683.0,1194.1 686.3,1195.9 689.6,1196.8 692.8,1198.4 696.1,1199.4 699.3,1200.2 702.2,1203.3 705.0,1205.9 707.9,1209.3 710.7,1212.2 713.8,1214.6 716.9,1217.4 720.0,1219.7 723.8,1221.8 727.3,1221.8 730.8,1221.1 734.4,1221.0 737.9,1221.5 741.5,1220.9 745.0,1221.6 748.1,1219.7 751.2,1218.9 753.4,1216.1 755.6,1213.1 757.8,1210.4 760.0,1207.6 763.8,1206.1 767.5,1204.7 769.6,1201.6 771.7,1199.1 773.8,1196.5 775.8,1193.4 777.9,1190.7 780.0,1187.6 782.5,1184.8 785.0,1182.7 787.5,1180.5 790.0,1177.3 792.5,1175.3 795.0,1172.5 797.5,1169.8 800.0,1166.6 802.5,1164.1 805.0,1160.9 807.5,1157.7 810.0,1154.5 812.5,1152.0 815.0,1149.4 817.5,1147.5 820.0,1144.6 822.5,1142.0 825.0,1139.5 828.0,1137.0 831.0,1135.0 834.0,1132.0 837.0,1130.0 840.0,1127.3 842.9,1124.6 845.8,1122.1 848.8,1119.8 849.6,1116.4 850.4,1113.2 851.2,1109.9 852.1,1106.6 852.9,1103.4 853.8,1099.9 856.9,1097.6 860.0,1095.2 863.3,1093.6 866.7,1092.7 870.0,1090.9 871.8,1087.7 873.6,1084.3 875.4,1080.7 877.1,1077.6 878.9,1074.5 880.7,1071.0 882.5,1067.4 884.0,1064.8 885.5,1062.0 887.0,1058.8 888.5,1055.7 890.0,1052.7 891.5,1049.2 893.0,1045.7 894.5,1042.1 896.0,1038.7 897.5,1035.3 898.6,1032.0 899.6,1028.7 900.7,1025.3 901.8,1022.0 902.9,1018.8 903.9,1015.6 905.0,1012.4 906.2,1009.1 907.5,1006.4 908.8,1003.0 910.0,1000.2 911.2,1000.1 912.1,996.9 913.0,993.5 913.9,989.7 914.8,986.1 915.7,983.1 916.6,979.6 917.5,975.9 918.6,972.2 919.7,968.4 920.8,964.9 921.9,961.2 923.1,957.5 924.2,953.9 925.3,950.5 926.4,947.1 927.5,943.5 928.4,940.2 929.4,936.8 930.3,933.0 931.2,929.8 932.2,926.3 933.1,922.8 934.1,919.7 935.0,916.1 935.8,912.8 936.7,909.6 937.5,906.1 938.3,902.5 939.2,899.1 940.0,895.8 941.2,892.3 942.5,888.9 943.8,885.3 945.0,882.3 946.2,879.0 947.5,875.5 948.8,871.8 950.0,868.2 951.1,865.0 952.1,861.6 953.2,858.0 954.3,854.5 955.4,850.6 956.4,846.9 957.5,843.4 958.8,840.3 960.0,837.1 961.2,833.9 962.5,831.1 964.0,827.3 965.5,824.0 967.0,820.7 968.5,816.9 970.0,813.3 971.6,809.9 973.1,806.4 974.7,803.4 976.2,800.1 977.8,796.2 979.4,792.5 980.9,789.3 982.5,786.0 985.5,783.1 988.5,781.1 991.5,778.9 994.5,776.2 997.5,773.2 998.1,770.1 998.8,767.3 999.4,764.2 1000.0,761.0 1001.6,757.9 1003.1,754.0 1004.7,750.7 1006.2,747.5 1007.8,744.1 1009.4,740.2 1010.9,737.0 1012.5,733.6 1015.0,731.2 1017.5,728.3 1020.0,726.3 1022.5,724.1 1023.3,720.2 1024.2,716.9 1025.0,713.5 1025.8,710.2 1026.7,706.7 1027.5,703.3 1029.1,700.5 1030.6,697.3 1032.2,694.1 1033.8,691.0 1035.3,687.7 1036.9,685.0 1038.4,681.9 1040.0,678.5 1042.5,675.2 1045.0,672.2 1047.5,669.2 1050.0,666.4 1052.5,664.0 1055.0,660.9 1057.5,658.8 1061.2,656.9 1065.0,655.9 1068.3,657.9 1071.7,659.1 1075.0,660.6 1078.3,662.9 1081.7,665.7 1085.0,668.7 1086.9,671.3 1088.8,674.8 1090.6,677.8 1092.5,681.3 1093.6,684.7 1094.6,688.2 1095.7,691.6 1096.8,695.4 1097.9,698.9 1098.9,702.6 1100.0,706.2 1101.8,709.2 1103.6,711.7 1105.4,714.3 1107.1,717.1 1108.9,720.2 1110.7,722.8 1112.5,725.5 1113.5,729.2 1114.5,733.0 1115.5,736.3 1116.5,739.8 1117.5,743.2 1119.6,746.7 1121.7,749.8 1123.8,752.8 1125.8,755.5 1127.9,758.2 1130.0,760.9 1131.7,763.7 1133.3,767.0 1135.0,769.8 1136.7,772.4 1138.3,775.8 1140.0,778.8 1142.5,780.7 1145.0,783.0 1147.5,785.8 1150.0,788.4 1153.8,788.8 1157.5,788.3 1161.2,789.0 1165.0,788.5 1168.0,790.2 1171.0,792.8 1174.0,794.9 1177.0,797.0 1180.0,798.4 1182.5,801.4 1185.0,803.5 1187.5,806.0 1190.0,808.8 1192.5,810.8 1195.0,813.0 1196.8,816.6 1198.6,819.9 1200.4,823.4 1202.1,826.8 1203.9,829.7 1205.7,833.0 1207.5,835.8 1208.9,839.6 1210.4,843.1 1211.8,846.6 1213.2,850.1 1214.6,853.7 1216.1,857.3 1217.5,860.8 1219.0,863.8 1220.5,866.9 1222.0,870.1 1223.5,873.8 1225.0,877.0 1226.5,880.2 1228.0,883.8 1230.1,886.2 1232.2,889.5 1234.2,892.6 1236.3,895.3 1238.4,898.3 1240.5,900.7 1243.3,903.6 1246.1,906.1 1248.9,909.4 1251.8,912.7 1255.5,912.9 1259.2,912.6 1263.0,912.7 1266.8,912.7 1270.5,911.9 1274.2,911.9 1277.1,909.2 1279.9,906.9 1282.7,904.5 1285.5,901.7 1289.2,900.2 1293.0,899.0 1296.8,901.4 1300.5,903.7 1303.8,904.2 1307.2,904.9 1310.5,904.7 1313.0,907.0 1315.5,909.5 1318.0,911.8 1319.7,915.4 1321.3,918.6 1323.0,921.8 1325.5,924.0 1328.0,925.4 1330.5,927.1 1334.2,928.4 1338.0,929.2 1340.5,931.3 1343.0,934.3 1345.5,936.9 1348.0,939.2 1350.5,941.2 1353.8,942.8 1357.2,944.7 1360.5,947.1 1363.6,947.5 1366.8,948.5 1369.9,949.6 1373.0,950.5 1376.3,948.6 1379.7,947.0 1383.0,945.4 1386.8,946.2 1390.5,946.6 1394.2,946.6 1398.0,946.5 1401.8,946.3 1404.2,943.8 1406.8,940.7 1409.2,937.9 1411.8,935.5 1414.2,932.7 1416.8,929.7 1419.2,931.1 1421.8,932.7 1424.2,934.9 1427.4,932.4 1430.5,930.0 1433.8,930.7 1437.2,931.1 1440.5,931.2 1444.0,929.6 1447.5,929.1 1451.0,927.8 1454.5,926.6 1458.0,925.3 1461.8,926.3 1465.5,927.3 1468.0,929.7 1470.5,932.4 1473.0,935.4 1475.5,938.4 1478.8,939.8 1482.2,942.1 1485.5,943.6 1488.6,945.8 1491.8,948.7 1494.9,951.3 1498.0,953.5 1500.5,956.5 1503.0,959.6 1505.5,962.5 1508.0,966.1 1509.9,969.0 1511.8,972.0 1513.6,975.4 1515.5,978.5 1518.0,981.7 1520.5,984.5 1523.0,987.9 1525.5,991.4 1528.4,994.6 1531.3,996.8 1534.2,999.6 1536.0,1002.6 1537.8,1005.9 1539.5,1009.0 1541.2,1012.0 1543.0,1014.8 1545.5,1017.1 1548.0,1019.8 1550.5,1022.2 1551.8,1025.8 1553.0,1029.4 1554.2,1032.4 1555.5,1036.0 1556.8,1039.5 1558.0,1042.6 1560.5,1045.1 1563.0,1048.0 1565.5,1050.9 1568.0,1054.2 1570.5,1057.5 1573.0,1060.6 1574.2,1063.2 1575.5,1066.1 1576.8,1069.3 1578.0,1072.3 1579.9,1075.3 1581.8,1078.2 1583.6,1080.6 1585.5,1083.4 1587.4,1086.4 1589.2,1089.2 1591.1,1092.3 1593.0,1094.7 1594.1,1097.8 1595.1,1101.2 1596.2,1104.3 1597.3,1107.5 1598.4,1111.2 1599.4,1114.5 1600.5,1117.3 1601.9,1121.1 1603.4,1124.4 1604.8,1128.4 1606.2,1131.7 1607.6,1135.2 1609.1,1138.6 1610.5,1142.2 1611.9,1145.7 1613.4,1149.6 1614.8,1153.5 1616.2,1156.7 1617.6,1160.1 1619.1,1164.0 1620.5,1167.6 1621.6,1171.0 1622.6,1173.9 1623.7,1176.9 1624.8,1180.2 1625.9,1183.5 1626.9,1186.5 1628.0,1190.0 1629.4,1193.4 1630.9,1196.5 1632.3,1199.8 1633.7,1203.1 1635.1,1206.4 1636.6,1209.6 1638.0,1212.5 1639.7,1216.1 1641.3,1219.6 1643.0,1222.9 1644.7,1226.3 1646.3,1229.0 1648.0,1232.7 1649.7,1236.2 1651.3,1239.2 1653.0,1242.3 1654.7,1245.9 1656.3,1249.5 1658.0,1252.6 1660.0,1255.2 1662.0,1258.1 1664.0,1261.2 1666.0,1264.5 1668.0,1267.7 1670.5,1270.6 1673.0,1273.7 1675.5,1277.4 1677.9,1279.7 1680.3,1282.1 1682.8,1284.8 1685.2,1286.5 1687.6,1289.1 1690.0,1291.3 1692.0,1294.1 1694.0,1296.7 1696.1,1299.8 1698.3,1302.2 1700.6,1304.7 1702.9,1307.4 1705.2,1309.5 1707.4,1311.5 1709.7,1314.0 1711.7,1316.3 1713.7,1319.0 1715.8,1321.7 1718.0,1325.4 1720.3,1328.6 1723.3,1331.2 1726.4,1333.9 1729.4,1336.5 1732.4,1338.9 1735.5,1341.9 1738.5,1344.7 1741.0,1346.3 1743.5,1348.7 1746.1,1350.1 1749.5,1351.7 1752.9,1354.4 1755.5,1355.5 1758.2,1356.8 1762.0,1358.2 1765.8,1360.0 1768.8,1360.7 1771.8,1361.0 1774.8,1362.0 1778.3,1362.5 1781.7,1362.5 1785.1,1362.4 1788.5,1362.4 1792.3,1363.5 1796.1,1363.5 1799.8,1364.4 1803.6,1364.2 1807.4,1364.9 1811.2,1364.5 1815.0,1364.2 1818.8,1363.1 1822.6,1362.6 1826.4,1361.0 1830.2,1359.2 1833.2,1356.3 1836.2,1353.4 1839.2,1353.0 1842.3,1352.3 1845.3,1351.4 1847.7,1349.5 1850.0,1348.2 1853.2,1347.5 1856.4,1346.4 1859.8,1346.8 1863.2,1347.9 1866.6,1348.9 1870.0,1349.6 1872.3,1351.3 1874.5,1353.7 1876.8,1355.3 1880.2,1354.9 1883.6,1355.5 1887.0,1355.6 1890.5,1356.1 1894.7,1356.5 1899.0,1357.1 1903.2,1357.6 1907.5,1357.5 1910.3,1358.9 1913.2,1360.1 1916.0,1361.1 1919.4,1360.6 1922.8,1360.6 1926.2,1361.2 1929.7,1358.3 1933.1,1356.5 1936.5,1357.3 1939.9,1357.7 1944.1,1356.2 1948.4,1354.9 1951.8,1355.1 1955.2,1355.2 1958.6,1356.0 1962.6,1356.2 1966.6,1355.6 1970.6,1355.1 1974.0,1356.5 1977.4,1357.3 1979.9,1359.1 1982.5,1360.4 1986.8,1361.5 1991.0,1362.2 1993.9,1363.7 1996.7,1365.6 1999.5,1366.5 2003.0,1367.3 2006.4,1367.4 2009.8,1368.6 2013.2,1368.5 2016.6,1368.7 2020.0,1368.4 2023.4,1368.0 2026.8,1368.0 2031.1,1367.0 2035.3,1366.0 2039.6,1365.5 2043.9,1364.7 2047.3,1365.9 2050.7,1367.3 2053.5,1368.2 2056.4,1369.6 2059.2,1370.6 2062.0,1371.8 2064.9,1373.4 2067.7,1374.2 2071.6,1374.8 2075.4,1375.7 2077.5,1375.3"/>
<polyline stroke="#C279E6" points="339.1,1387.9 342.4,1386.0 345.7,1384.8 349.1,1383.3 352.3,1381.6 355.4,1379.7 358.6,1378.5 361.2,1377.2 363.7,1375.4 366.3,1373.7 368.8,1371.8 371.3,1369.8 373.9,1368.4 376.4,1367.1 379.0,1365.2 381.5,1364.1 385.3,1361.9 389.2,1359.8 393.0,1357.7 396.8,1356.6 400.6,1355.3 404.4,1354.1 407.8,1353.0 411.1,1351.3 414.4,1350.8 417.8,1350.5 421.6,1350.2 425.4,1351.0 428.3,1350.2 431.1,1349.3 434.0,1347.5 436.9,1344.7 439.7,1342.3 442.6,1339.3 444.8,1336.8 447.0,1334.0 449.3,1331.5 452.1,1328.0 455.0,1324.4 456.9,1322.1 458.8,1319.0 462.2,1317.0 465.5,1314.2 468.0,1312.2 470.6,1309.8 473.1,1307.2 476.0,1304.4 478.9,1301.3 481.0,1298.5 483.1,1295.2 485.3,1292.4 487.4,1289.8 489.8,1286.6 492.2,1284.2 494.6,1281.5 497.0,1278.3 499.4,1275.7 501.8,1273.3 504.3,1270.4 506.8,1268.0 509.4,1264.9 511.0,1261.9 512.6,1259.3 514.2,1257.1 516.1,1255.0 518.0,1252.3 519.9,1249.6 522.3,1246.3 524.7,1243.1 526.6,1239.9 529.3,1238.2 531.9,1236.4 534.6,1234.7 537.3,1232.5 540.0,1230.4 542.3,1227.8 544.5,1225.7 546.8,1222.7 549.0,1220.1 551.3,1217.2 553.5,1214.2 555.8,1211.4 557.5,1208.9 559.3,1206.0 561.1,1202.8 562.9,1199.9 564.7,1196.9 566.6,1193.7 568.5,1190.4 570.4,1186.6 572.3,1183.5 574.1,1180.2 577.4,1177.7 580.7,1175.6 584.0,1173.1 587.3,1170.6 589.1,1167.8 590.9,1165.7 592.7,1162.7 595.8,1159.3 598.9,1156.7 601.4,1155.0 603.9,1153.0 606.5,1151.4 609.4,1149.6 612.3,1148.5 615.2,1147.5 619.0,1146.3 622.7,1144.9 626.1,1144.7 629.4,1144.9 632.8,1145.6 635.3,1147.8 637.8,1149.6 640.9,1151.2 644.0,1152.7 647.2,1154.5 650.3,1155.6 652.8,1157.8 655.3,1159.2 657.8,1161.2 661.1,1163.1 664.5,1164.5 667.8,1166.0 671.2,1166.8 674.5,1167.6 677.8,1168.6 679.8,1169.7 683.3,1169.8 686.8,1170.4 690.4,1170.7 693.9,1171.7 697.4,1171.6 700.6,1174.3 703.8,1176.9 706.9,1178.4 710.2,1178.2 713.5,1177.9 716.7,1177.7 720.0,1177.1 723.8,1176.4 727.5,1176.1 730.5,1174.9 733.5,1173.3 736.5,1170.9 739.5,1168.8 742.5,1166.9 745.8,1164.8 749.0,1163.1 752.2,1161.0 755.5,1159.6 758.8,1157.7 763.8,1158.4 766.8,1156.9 769.8,1155.0 772.9,1153.3 775.9,1151.3 778.9,1149.3 782.0,1147.5 785.0,1145.9 787.9,1144.0 790.7,1141.7 793.6,1138.9 796.4,1137.0 799.3,1135.0 802.1,1132.7 805.0,1130.5 807.5,1127.3 810.0,1124.9 812.5,1122.1 815.0,1120.0 817.5,1117.2 820.0,1115.1 822.0,1111.8 824.0,1109.1 826.0,1105.9 828.0,1102.6 830.0,1099.7 831.6,1096.3 833.1,1093.3 834.7,1089.6 836.2,1086.2 837.8,1082.8 839.4,1079.7 840.9,1075.8 842.5,1072.5 844.2,1069.2 845.8,1066.0 847.5,1062.9 849.2,1059.2 850.8,1056.0 852.5,1052.6 854.0,1049.6 855.5,1046.2 857.0,1043.6 858.5,1040.9 860.0,1037.6 863.3,1034.9 866.7,1032.9 870.0,1029.8 871.5,1026.1 873.0,1022.5 874.5,1019.5 876.0,1016.2 877.5,1012.5 879.1,1009.5 880.6,1006.0 882.2,1003.1 883.8,999.9 885.3,997.1 886.9,994.2 888.4,991.3 890.0,988.3 891.1,984.6 892.1,981.1 893.2,977.5 894.3,974.2 895.4,970.8 896.4,967.3 897.5,963.6 898.6,959.8 899.6,956.2 900.7,952.7 901.8,949.3 902.9,945.9 903.9,942.0 905.0,938.4 905.8,934.9 906.7,931.4 907.5,927.9 908.3,924.3 909.2,920.6 910.0,917.1 910.8,913.4 911.7,909.9 912.5,906.2 913.3,902.6 914.2,898.7 915.0,895.4 915.8,891.6 916.7,888.0 917.5,884.5 918.3,881.1 919.2,877.5 920.0,873.4 920.6,869.9 921.2,866.5 921.9,863.1 922.5,859.5 923.1,856.2 923.8,852.6 924.4,849.2 925.0,846.1 925.6,842.7 926.2,839.2 926.9,835.5 927.5,832.4 928.1,829.0 928.8,825.3 929.4,821.8 930.0,818.5 930.6,814.9 931.2,810.9 931.9,807.4 932.5,803.5 933.1,799.6 933.8,796.1 934.4,792.1 935.0,788.5 935.8,784.7 936.7,781.3 937.5,777.5 938.3,773.9 939.2,770.6 940.0,766.9 940.8,763.2 941.7,759.7 942.5,755.9 943.3,752.4 944.2,749.2 945.0,745.8 945.8,742.4 946.7,739.5 947.5,735.8 948.3,732.8 949.2,729.6 950.0,726.2 950.6,722.4 951.2,719.1 951.9,715.4 952.5,712.2 953.1,708.9 953.8,705.3 954.4,701.6 955.0,698.4 955.9,694.7 956.8,691.1 957.7,687.7 958.6,684.4 959.5,680.6 960.4,676.9 961.2,673.6 962.3,670.3 963.4,666.7 964.5,663.0 965.6,659.5 966.7,656.1 967.8,652.8 968.9,649.2 970.0,646.1 971.5,642.8 973.0,639.4 974.5,635.9 976.0,631.9 977.5,628.5 978.5,624.8 979.5,621.6 980.5,618.2 981.5,614.7 982.5,610.9 985.0,608.1 987.5,606.1 990.0,603.6 992.5,601.2 995.0,598.5 996.5,595.2 998.0,591.5 999.5,587.8 1001.0,584.3 1002.5,580.8 1003.8,581.0 1005.0,577.8 1006.2,574.0 1007.5,570.4 1008.8,567.1 1010.0,563.9 1011.2,560.3 1012.5,556.8 1014.2,553.7 1015.8,550.6 1017.5,548.0 1019.2,545.4 1020.8,542.5 1022.5,539.3 1024.0,536.1 1025.5,533.6 1027.0,530.6 1028.5,527.5 1030.0,524.6 1032.5,522.3 1035.0,519.6 1037.5,516.7 1040.8,515.5 1044.2,513.5 1047.5,511.4 1050.0,509.5 1052.5,507.7 1055.0,505.8 1060.0,505.4 1063.3,508.3 1066.7,510.8 1070.0,512.9 1073.3,514.7 1076.7,516.2 1080.0,517.6 1082.5,519.9 1085.0,521.9 1087.5,524.7 1089.2,527.4 1090.8,529.7 1092.5,532.4 1094.2,535.9 1095.8,538.8 1097.5,542.4 1100.0,545.1 1102.5,547.5 1105.0,549.3 1107.5,551.8 1109.4,555.1 1111.2,558.3 1113.1,561.6 1115.0,564.7 1116.9,567.5 1118.8,571.0 1120.6,574.0 1122.5,577.4 1125.0,580.9 1128.0,583.5 1131.0,585.3 1134.0,587.4 1137.0,589.4 1140.0,591.6 1141.2,594.3 1142.5,597.1 1143.8,600.2 1145.0,603.2 1148.1,605.3 1151.2,607.5 1154.4,609.1 1157.5,610.6 1159.5,613.5 1161.5,616.7 1163.5,619.9 1165.5,622.6 1167.5,625.9 1170.4,627.8 1173.2,629.8 1176.1,632.6 1178.9,634.7 1181.8,637.1 1184.6,639.1 1187.5,640.7 1189.1,643.8 1190.6,647.1 1192.2,650.4 1193.8,653.7 1195.3,656.9 1196.9,660.0 1198.4,662.8 1200.0,665.9 1201.4,669.1 1202.9,672.4 1204.3,675.5 1205.7,678.8 1207.1,682.0 1208.6,684.9 1210.0,688.6 1211.1,692.2 1212.1,695.9 1213.2,699.5 1214.3,703.0 1215.4,706.8 1216.4,710.0 1217.5,713.5 1219.0,716.4 1220.5,719.9 1222.0,723.2 1223.5,726.4 1225.0,729.9 1226.5,732.7 1228.0,735.8 1229.5,739.1 1231.0,742.3 1232.5,745.1 1234.0,747.7 1235.5,750.8 1238.5,753.2 1241.5,755.1 1244.5,757.0 1247.5,758.9 1250.5,761.1 1254.7,761.6 1258.8,762.1 1263.0,762.8 1266.8,761.5 1270.5,759.8 1273.0,757.1 1275.5,754.9 1278.0,752.6 1280.5,750.3 1283.6,748.4 1286.8,747.6 1289.9,746.6 1293.0,744.6 1296.3,744.7 1299.7,745.2 1303.0,745.0 1306.3,745.8 1309.7,745.6 1313.0,746.1 1315.5,748.4 1318.0,750.7 1320.5,753.1 1322.2,756.7 1323.8,760.2 1325.5,763.3 1328.0,766.1 1330.5,768.4 1333.0,771.1 1335.5,773.4 1338.0,775.7 1340.5,778.7 1343.0,781.7 1345.5,785.3 1348.0,788.4 1350.5,790.3 1353.0,793.0 1355.5,795.3 1358.0,796.9 1361.3,797.8 1364.7,798.2 1368.0,798.5 1371.8,800.4 1375.5,802.7 1378.5,801.1 1381.5,799.9 1384.5,798.7 1387.5,797.2 1390.5,795.8 1393.6,794.6 1396.8,793.1 1399.9,791.4 1403.0,789.8 1406.3,788.2 1409.7,787.4 1413.0,785.6 1416.1,784.7 1419.2,783.4 1422.4,781.9 1425.5,780.9 1428.6,778.6 1431.8,775.6 1434.9,773.3 1438.0,770.6 1441.8,770.5 1445.5,769.6 1448.8,769.9 1452.2,770.2 1455.5,770.3 1458.8,770.8 1462.2,771.2 1465.5,772.1 1468.8,774.2 1472.2,775.4 1475.5,776.8 1478.0,780.0 1480.5,782.7 1483.0,785.7 1486.3,788.6 1489.7,790.8 1493.0,793.6 1494.8,796.4 1496.6,798.9 1498.4,801.7 1500.1,804.9 1501.9,807.4 1503.7,810.3 1505.5,813.4 1507.2,816.6 1508.8,819.4 1510.5,822.4 1512.2,824.9 1513.8,827.8 1515.5,830.7 1517.6,834.1 1519.7,836.8 1521.8,840.0 1523.8,842.4 1525.9,845.5 1528.0,848.8 1530.5,851.4 1533.0,853.7 1535.5,855.8 1538.0,858.8 1540.5,861.4 1543.0,865.0 1545.5,868.2 1548.0,871.3 1549.1,874.5 1550.2,877.5 1551.3,880.8 1552.4,884.4 1553.6,887.8 1554.7,891.0 1555.8,894.5 1556.9,897.5 1558.0,900.8 1559.6,904.1 1561.1,907.6 1562.7,911.4 1564.2,915.0 1565.8,918.0 1567.4,921.4 1568.9,924.7 1570.5,928.5 1571.8,931.9 1573.0,935.2 1574.2,938.6 1575.5,942.4 1576.8,945.7 1578.0,949.3 1579.2,952.7 1580.5,956.0 1581.9,959.6 1583.4,963.1 1584.8,966.5 1586.2,970.2 1587.6,973.7 1589.1,977.2 1590.5,980.7 1591.8,984.3 1593.0,987.3 1594.2,990.3 1595.5,993.3 1596.8,996.5 1598.0,1000.1 1598.7,1003.5 1599.4,1007.2 1600.1,1010.6 1600.9,1014.3 1601.6,1017.8 1602.3,1021.5 1603.0,1025.1 1604.7,1028.3 1606.3,1031.5 1608.0,1035.0 1609.7,1038.6 1611.3,1041.9 1613.0,1045.1 1614.1,1048.6 1615.2,1052.4 1616.3,1056.1 1617.4,1059.4 1618.6,1063.1 1619.7,1066.9 1620.8,1070.5 1621.9,1074.3 1623.0,1077.9 1624.1,1080.9 1625.2,1084.5 1626.3,1087.5 1627.4,1090.8 1628.6,1094.4 1629.7,1097.4 1630.8,1100.7 1631.9,1104.2 1633.0,1107.4 1634.2,1110.7 1635.5,1114.5 1636.8,1117.9 1638.0,1121.5 1639.2,1125.0 1640.5,1128.5 1641.8,1132.0 1643.0,1135.4 1644.4,1138.7 1645.9,1141.7 1647.3,1144.9 1648.7,1148.0 1650.1,1151.4 1651.6,1154.6 1653.0,1157.6 1654.6,1161.1 1656.1,1164.3 1657.7,1167.5 1659.2,1171.0 1660.8,1174.3 1662.4,1177.6 1663.9,1181.1 1665.5,1184.7 1666.8,1188.5 1668.0,1191.6 1669.2,1195.3 1670.5,1198.5 1671.8,1202.1 1673.0,1205.4 1674.2,1208.9 1675.5,1212.6 1677.2,1215.4 1678.8,1218.2 1680.5,1221.4 1682.2,1223.9 1683.8,1226.9 1685.5,1230.1 1687.2,1233.2 1688.8,1236.3 1690.5,1238.8 1692.2,1241.8 1693.8,1244.5 1695.5,1247.6 1696.8,1251.1 1698.0,1254.1 1699.2,1257.4 1700.5,1261.0 1701.8,1264.2 1703.0,1267.6 1704.7,1270.9 1706.3,1273.7 1708.0,1277.1 1709.7,1279.7 1712.0,1283.5 1714.2,1287.2 1716.0,1289.8 1717.8,1292.3 1719.5,1294.6 1721.1,1298.2 1722.6,1301.0 1724.1,1304.2 1726.4,1308.0 1728.6,1312.1 1731.3,1315.6 1733.9,1318.9 1736.2,1322.3 1738.5,1326.4 1740.8,1329.0 1743.0,1332.5 1745.1,1334.5 1747.1,1336.6 1749.1,1338.7 1751.7,1342.3 1754.4,1346.0 1756.7,1348.9 1758.9,1351.6 1761.2,1353.9 1763.5,1355.7 1766.8,1355.9 1770.1,1356.2 1773.3,1356.7 1777.1,1357.8 1780.9,1358.8 1784.7,1358.6 1788.5,1359.2 1792.3,1359.4 1796.1,1359.0 1799.1,1359.9 1802.1,1360.8 1805.2,1360.5 1808.2,1361.1 1810.5,1360.0 1812.7,1358.6 1815.8,1358.0 1818.8,1356.4 1822.6,1356.7 1826.4,1356.6 1830.2,1357.0 1833.9,1356.4 1837.3,1356.9 1840.8,1356.9 1844.5,1358.9 1847.3,1357.9 1850.0,1356.2 1851.2,1355.2 1853.5,1352.8 1855.8,1350.9 1858.1,1348.8 1861.5,1350.9 1864.9,1354.1 1868.9,1354.8 1872.8,1354.6 1876.8,1354.9 1879.1,1352.4 1881.4,1350.2 1883.6,1347.8 1887.0,1347.6 1890.5,1347.7 1893.9,1347.0 1897.3,1346.7 1900.1,1346.0 1903.0,1344.5 1905.8,1343.1 1908.6,1342.7 1911.5,1341.1 1914.3,1340.0 1918.6,1340.4 1922.8,1340.7 1926.2,1342.0 1929.7,1343.5 1933.1,1342.0 1936.5,1341.2 1939.9,1339.7 1943.3,1339.8 1946.7,1340.1 1950.1,1340.5 1954.4,1341.1 1958.6,1341.5 1962.6,1342.7 1966.6,1343.3 1970.6,1343.7 1974.0,1345.1 1977.4,1346.3 1980.8,1347.0 1984.2,1348.9 1987.6,1350.8 1991.6,1350.6 1995.6,1350.8 1999.5,1350.8 2003.0,1351.6 2006.4,1351.6 2009.8,1352.4 2013.2,1353.3 2016.6,1353.6 2020.0,1354.4 2024.0,1353.1 2028.0,1352.9 2031.9,1352.0 2035.9,1352.4 2039.9,1352.2 2043.9,1352.2 2047.3,1352.5 2050.7,1352.9 2054.1,1354.1 2058.1,1354.4 2062.0,1354.7 2066.0,1354.4 2069.1,1355.5 2072.3,1357.3 2075.4,1358.0 2077.5,1358.1"/>
<polyline stroke="#DC9B00" points="339.1,1387.9 341.8,1386.1 344.5,1383.3 347.2,1380.7 350.5,1378.6 353.9,1375.3 357.2,1372.2 360.5,1369.7 363.1,1368.0 365.6,1366.9 368.2,1364.9 370.7,1363.5 373.3,1361.2 375.8,1359.4 379.6,1358.3 383.4,1356.8 386.3,1355.1 389.2,1353.1 392.5,1351.4 395.8,1351.0 398.2,1349.2 400.6,1347.3 403.5,1347.0 406.3,1349.9 408.7,1348.0 411.1,1346.4 414.4,1346.2 417.8,1346.2 420.2,1343.7 422.6,1341.5 424.9,1338.5 427.3,1335.3 430.2,1334.4 433.1,1332.6 435.9,1330.9 438.8,1329.3 442.0,1326.9 445.1,1324.1 448.3,1322.3 451.5,1320.1 454.7,1317.4 457.9,1314.9 460.7,1311.8 463.6,1308.2 466.1,1306.6 468.7,1304.3 471.2,1302.1 473.8,1299.4 476.3,1297.1 478.9,1294.8 481.7,1291.1 484.6,1287.6 486.8,1285.5 489.0,1283.1 491.3,1281.0 493.5,1278.5 495.7,1275.9 497.9,1273.5 500.2,1270.0 502.4,1266.1 504.6,1263.2 506.2,1259.4 507.8,1255.9 509.4,1252.3 511.3,1248.9 513.2,1245.2 515.1,1240.2 517.1,1236.3 519.1,1232.4 521.0,1229.1 522.9,1225.8 524.8,1223.0 526.7,1219.9 528.6,1216.9 530.5,1213.9 532.4,1210.8 534.3,1207.6 536.5,1204.7 538.7,1201.9 541.0,1198.8 543.2,1195.3 545.4,1192.4 547.6,1188.8 549.6,1186.3 551.7,1184.1 553.7,1181.7 555.8,1178.9 558.0,1176.2 560.3,1173.1 562.6,1170.1 564.7,1166.5 566.8,1163.2 568.9,1159.5 571.8,1156.8 574.7,1154.4 577.6,1151.9 580.2,1149.4 582.7,1147.5 585.2,1145.4 587.7,1143.1 590.5,1140.9 593.3,1137.6 596.1,1135.2 598.9,1132.9 602.7,1131.4 606.5,1129.9 610.2,1129.1 614.0,1127.5 617.7,1125.9 621.5,1124.1 625.2,1124.9 629.0,1124.6 632.8,1124.2 636.5,1127.4 640.3,1129.6 644.0,1132.4 647.4,1133.0 650.7,1133.9 654.0,1134.7 657.2,1136.3 660.3,1137.4 662.8,1136.2 665.3,1135.4 667.8,1138.3 670.3,1140.8 673.5,1142.0 676.6,1143.9 681.0,1145.3 685.4,1145.6 688.7,1145.5 692.0,1145.7 695.4,1145.7 698.7,1146.1 702.0,1146.3 705.4,1146.1 708.8,1146.4 712.3,1146.8 715.7,1147.4 719.2,1147.8 722.1,1149.6 725.0,1150.6 727.9,1152.5 731.2,1152.5 734.4,1151.9 737.7,1152.1 741.0,1152.3 744.2,1151.8 747.3,1149.8 750.5,1147.3 753.6,1144.7 756.7,1141.1 759.2,1139.0 761.6,1137.0 764.0,1134.6 765.0,1136.3 768.8,1134.4 772.5,1132.2 775.0,1130.1 777.5,1128.5 780.0,1126.6 783.8,1124.7 787.5,1123.5 791.2,1122.5 795.0,1120.9 797.5,1119.3 800.0,1117.5 802.5,1115.2 804.0,1111.5 805.5,1108.2 807.0,1104.6 808.5,1100.8 810.0,1097.3 812.1,1094.2 814.2,1091.8 816.2,1088.8 818.3,1086.0 820.4,1083.3 822.5,1080.5 824.0,1077.0 825.5,1073.9 827.0,1071.2 828.5,1068.3 830.0,1065.1 831.4,1061.6 832.9,1057.7 834.3,1054.0 835.7,1050.3 837.1,1046.9 838.6,1043.3 840.0,1039.9 841.7,1036.9 843.3,1033.2 845.0,1030.0 846.7,1026.9 848.3,1023.5 850.0,1020.1 851.9,1017.1 853.8,1013.5 855.6,1010.9 857.5,1007.7 859.2,1005.3 860.8,1002.9 862.5,999.9 863.6,996.5 864.7,993.2 865.8,990.2 866.9,987.3 868.1,984.2 869.2,980.8 870.3,977.6 871.4,974.4 872.5,971.0 873.6,967.7 874.7,964.2 875.8,960.5 876.9,956.9 878.1,953.3 879.2,949.6 880.3,945.7 881.4,942.0 882.5,938.3 883.6,934.6 884.6,931.4 885.7,927.7 886.8,923.9 887.9,920.4 888.9,916.7 890.0,913.3 890.9,909.9 891.9,906.4 892.8,903.1 893.8,899.6 894.7,896.2 895.6,893.0 896.6,889.4 897.5,886.0 898.2,882.9 898.9,879.7 899.6,876.1 900.3,872.5 901.0,869.5 901.7,866.1 902.4,862.5 903.1,859.1 903.8,855.7 904.4,852.2 905.1,848.5 905.8,844.8 906.5,841.6 907.2,838.2 907.9,834.2 908.6,830.7 909.3,827.2 910.0,823.6 910.6,819.9 911.2,816.5 911.9,813.1 912.5,809.9 913.1,806.4 913.8,802.9 914.4,799.5 915.0,795.8 915.6,792.3 916.2,788.7 916.9,784.9 917.5,781.0 918.1,777.1 918.8,773.2 919.4,769.4 920.0,765.7 920.6,762.2 921.1,758.8 921.7,755.1 922.2,751.5 922.8,748.0 923.3,744.4 923.9,740.5 924.4,737.2 925.0,733.6 925.6,729.7 926.2,725.8 926.9,722.3 927.5,718.7 928.1,714.8 928.8,711.0 929.4,707.3 930.0,703.3 930.6,699.6 931.2,696.2 931.9,692.3 932.5,688.7 933.1,684.7 933.8,681.2 934.4,677.5 935.0,673.5 935.7,669.9 936.4,666.5 937.1,662.9 937.9,659.3 938.6,655.5 939.3,652.1 940.0,648.4 940.8,645.2 941.6,641.6 942.3,638.4 943.1,634.9 943.9,631.2 944.7,627.8 945.5,624.2 946.2,621.0 947.1,617.0 947.9,613.5 948.8,609.6 949.6,606.1 950.4,602.1 951.2,598.5 952.0,595.1 952.8,591.4 953.5,587.8 954.2,584.3 955.0,581.0 956.2,580.7 957.0,577.0 957.8,573.5 958.6,570.2 959.4,566.4 960.2,563.0 960.9,559.3 961.7,555.5 962.5,551.7 963.6,548.5 964.7,545.2 965.8,541.8 966.9,538.3 968.1,535.2 969.2,531.8 970.3,528.5 971.4,525.2 972.5,522.1 973.8,518.8 975.0,515.2 976.2,511.7 977.5,508.8 978.8,505.1 980.0,501.7 982.5,498.2 985.0,495.4 987.5,492.1 990.8,490.4 994.2,488.2 997.5,485.7 1000.0,482.9 1002.5,480.3 1005.0,477.2 1007.5,474.7 1010.0,472.0 1012.5,469.1 1015.0,466.7 1017.5,464.4 1019.0,461.2 1020.5,458.7 1022.0,455.9 1023.5,452.7 1025.0,449.9 1026.7,446.5 1028.3,443.0 1030.0,439.3 1031.7,436.4 1033.3,433.2 1035.0,429.6 1037.5,427.0 1040.0,424.1 1042.5,421.9 1045.8,419.8 1049.2,417.0 1052.5,414.3 1055.0,412.0 1057.5,409.8 1060.0,406.8 1062.5,404.2 1066.7,405.0 1070.8,404.8 1075.0,405.9 1078.3,407.7 1081.7,410.2 1085.0,412.1 1087.5,414.2 1090.0,416.5 1092.5,418.9 1094.2,422.4 1095.8,426.2 1097.5,429.7 1098.3,433.0 1099.2,436.1 1100.0,439.6 1102.5,443.1 1105.0,446.2 1107.5,449.2 1108.5,452.8 1109.5,456.3 1110.5,459.7 1111.5,463.3 1112.5,466.7 1114.0,470.1 1115.5,472.9 1117.0,476.2 1118.5,479.3 1120.0,481.8 1122.0,485.2 1124.0,488.3 1126.0,491.2 1128.0,494.4 1130.0,497.2 1132.5,499.1 1135.0,501.5 1137.5,504.1 1140.0,507.1 1142.5,509.9 1145.0,511.0 1147.5,512.6 1150.0,514.0 1153.3,515.2 1156.7,516.6 1160.0,518.0 1163.3,519.9 1166.7,522.4 1170.0,524.2 1173.3,525.2 1176.7,525.4 1180.0,525.7 1183.1,527.9 1186.2,529.5 1189.4,531.1 1192.5,532.8 1194.4,536.3 1196.2,539.8 1198.1,543.6 1200.0,546.9 1201.5,550.6 1203.0,553.9 1204.5,557.2 1206.0,560.7 1207.5,564.3 1209.0,568.0 1210.5,571.0 1212.0,574.2 1213.5,577.4 1215.0,580.7 1216.4,584.5 1217.9,588.0 1219.3,591.0 1220.8,594.0 1222.2,597.5 1223.7,601.0 1225.1,604.1 1226.6,607.5 1228.0,611.1 1229.5,613.7 1231.0,617.0 1232.5,620.1 1234.0,623.3 1235.5,626.1 1238.0,627.7 1240.5,629.4 1243.0,630.7 1245.5,633.4 1248.0,635.7 1250.5,638.2 1253.0,640.5 1255.5,643.0 1259.2,643.4 1263.0,644.5 1266.3,641.9 1269.7,639.6 1273.0,637.2 1276.4,636.6 1279.9,636.1 1283.3,636.2 1286.8,636.1 1289.2,634.2 1291.8,631.9 1294.2,629.9 1298.0,629.9 1301.8,630.6 1304.6,633.6 1307.4,635.9 1310.2,638.1 1313.0,640.7 1316.3,642.9 1319.7,644.0 1323.0,645.5 1325.5,648.0 1328.0,650.7 1330.5,652.8 1333.0,654.8 1335.5,657.4 1339.2,656.9 1343.0,656.9 1345.5,660.0 1348.0,663.1 1350.5,666.1 1353.0,668.5 1356.3,669.9 1359.7,671.6 1363.0,673.0 1366.5,673.0 1370.0,673.6 1373.5,674.1 1377.0,673.5 1380.5,673.0 1383.8,671.4 1387.2,669.8 1390.5,667.8 1393.4,664.9 1396.3,662.5 1399.2,660.1 1403.6,660.2 1408.0,659.9 1410.8,658.8 1413.6,657.2 1416.4,655.0 1419.2,653.4 1423.0,655.6 1425.5,653.2 1428.0,651.1 1430.5,648.6 1433.0,649.8 1435.5,651.3 1438.6,648.6 1441.8,646.4 1444.9,644.3 1448.0,642.2 1451.8,641.8 1455.5,641.6 1459.7,642.0 1463.8,642.1 1468.0,642.6 1470.5,645.2 1473.0,648.4 1475.5,651.0 1478.0,653.7 1480.5,655.8 1483.0,658.0 1485.5,660.6 1488.0,662.6 1490.5,665.3 1493.0,667.6 1495.5,670.1 1498.0,672.2 1500.5,674.3 1503.0,676.2 1505.5,678.1 1506.9,681.6 1508.4,685.1 1509.8,688.4 1511.2,691.6 1512.6,694.4 1514.1,697.8 1515.5,700.9 1518.0,703.3 1520.5,706.3 1523.0,708.5 1525.5,711.0 1528.0,713.1 1530.2,715.5 1532.5,718.0 1534.8,720.5 1537.0,723.3 1539.2,725.5 1540.7,728.6 1542.1,731.7 1543.5,735.3 1544.9,738.8 1546.3,741.9 1547.7,744.9 1549.1,747.7 1550.5,751.1 1551.9,754.4 1553.4,757.8 1554.8,761.6 1556.2,765.5 1557.6,768.8 1559.1,772.6 1560.5,776.0 1561.5,779.8 1562.5,783.3 1563.5,786.8 1564.5,790.4 1565.5,793.9 1566.5,797.0 1567.5,800.5 1568.5,804.0 1569.5,807.6 1570.5,810.9 1571.6,814.6 1572.7,818.1 1573.8,821.6 1574.9,825.3 1576.1,829.2 1577.2,832.8 1578.3,836.2 1579.4,839.7 1580.5,843.3 1581.4,846.8 1582.4,850.2 1583.3,853.6 1584.2,857.0 1585.2,860.5 1586.1,864.1 1587.1,867.6 1588.0,871.1 1589.0,874.8 1590.0,878.2 1591.0,881.4 1592.0,884.9 1593.0,888.5 1594.0,892.1 1595.0,895.6 1596.0,898.8 1597.0,902.4 1598.0,906.0 1598.8,909.5 1599.7,912.7 1600.5,915.9 1601.3,919.0 1602.2,922.5 1603.0,926.1 1603.8,929.1 1604.7,932.6 1605.5,936.0 1606.3,939.4 1607.2,942.5 1608.0,945.7 1608.8,948.9 1609.7,952.4 1610.5,956.1 1611.3,959.3 1612.2,962.9 1613.0,966.3 1613.8,969.6 1614.5,972.8 1615.2,976.3 1616.0,979.8 1616.8,983.0 1617.5,986.2 1618.2,989.9 1619.0,993.3 1619.8,996.6 1620.5,999.9 1621.8,999.5 1622.5,1003.3 1623.3,1007.0 1624.1,1010.3 1624.9,1013.9 1625.7,1017.4 1626.4,1020.6 1627.2,1024.1 1628.0,1027.8 1629.0,1031.3 1630.0,1034.4 1631.0,1038.1 1632.0,1041.6 1633.0,1045.2 1634.0,1048.7 1635.0,1052.3 1636.0,1055.9 1637.0,1059.0 1638.0,1062.5 1639.1,1065.8 1640.2,1069.9 1641.3,1073.2 1642.4,1076.8 1643.6,1080.6 1644.7,1084.1 1645.8,1087.6 1646.9,1091.3 1648.0,1094.8 1649.2,1098.3 1650.5,1102.0 1651.8,1105.2 1653.0,1108.7 1654.2,1112.2 1655.5,1115.7 1656.8,1119.3 1658.0,1122.8 1659.1,1126.2 1660.1,1128.9 1661.2,1132.1 1662.3,1135.1 1663.4,1138.6 1664.4,1141.7 1665.5,1145.2 1666.4,1148.5 1667.4,1152.1 1668.3,1155.1 1669.2,1158.7 1670.2,1162.1 1671.1,1165.8 1672.1,1168.9 1673.0,1172.2 1674.4,1176.1 1675.9,1179.5 1677.3,1183.1 1678.7,1186.7 1680.1,1190.6 1681.6,1194.1 1683.0,1197.8 1684.7,1201.2 1686.3,1204.6 1688.0,1207.7 1689.7,1210.8 1691.3,1214.1 1693.0,1217.8 1694.4,1221.1 1695.9,1224.1 1697.3,1227.5 1698.7,1230.7 1700.1,1233.4 1701.6,1236.8 1703.0,1240.2 1704.7,1243.1 1706.3,1246.5 1708.0,1250.0 1709.7,1253.3 1711.3,1256.7 1713.0,1259.7 1714.8,1262.7 1716.5,1266.2 1718.2,1269.0 1720.0,1272.0 1722.1,1274.8 1724.2,1277.2 1726.4,1279.9 1727.9,1282.7 1729.4,1285.8 1730.9,1288.7 1732.4,1291.0 1733.9,1293.9 1735.5,1296.8 1737.0,1299.8 1738.5,1302.4 1740.0,1305.2 1742.3,1308.2 1744.5,1311.3 1748.3,1315.3 1751.4,1317.3 1754.4,1319.2 1757.4,1320.1 1759.7,1322.6 1762.0,1324.7 1765.0,1326.4 1768.0,1328.0 1770.7,1330.6 1773.3,1332.7 1776.4,1334.4 1779.4,1336.2 1782.0,1336.9 1784.7,1338.7 1787.7,1339.0 1790.8,1338.5 1793.4,1340.8 1796.1,1343.3 1799.8,1344.4 1803.6,1342.0 1807.4,1341.8 1811.2,1341.6 1815.0,1341.2 1818.8,1342.6 1822.6,1343.3 1826.4,1343.3 1830.2,1342.9 1833.2,1342.5 1836.2,1341.8 1838.9,1341.2 1841.5,1339.7 1845.8,1339.0 1850.0,1338.0 1853.0,1336.8 1855.8,1338.6 1858.6,1340.8 1861.5,1343.6 1865.5,1345.0 1869.4,1345.1 1873.4,1345.8 1876.2,1348.2 1879.1,1350.2 1881.9,1352.9 1886.2,1352.9 1890.5,1352.7 1893.9,1350.9 1897.3,1350.3 1900.7,1349.2 1904.1,1347.7 1907.5,1347.4 1910.9,1346.8 1914.3,1346.7 1917.7,1346.4 1921.1,1346.2 1924.5,1345.7 1928.8,1346.2 1933.1,1347.9 1936.5,1346.6 1939.9,1345.0 1942.7,1345.9 1945.6,1347.8 1948.4,1349.2 1951.8,1346.8 1955.2,1344.7 1958.6,1343.1 1962.0,1340.8 1966.3,1341.4 1970.6,1341.2 1973.4,1342.8 1976.2,1343.6 1979.1,1345.5 1983.4,1345.5 1987.6,1346.0 1991.9,1347.4 1996.1,1348.5 1999.5,1349.2 2003.0,1350.2 2006.4,1349.0 2009.8,1348.1 2013.2,1346.4 2016.6,1345.4 2020.0,1345.2 2023.4,1345.8 2026.8,1346.0 2029.7,1347.0 2032.5,1349.1 2035.3,1351.1 2038.2,1351.8 2041.0,1352.8 2043.9,1354.1 2047.3,1355.9 2050.7,1357.6 2054.1,1360.0 2058.1,1359.9 2062.0,1360.2 2066.0,1360.1 2069.1,1361.1 2072.3,1362.5 2075.4,1362.9 2077.5,1362.7"/>
<polyline stroke="#8B4C4C" points="339.1,1387.9 343.1,1386.9 347.2,1385.7 350.4,1384.2 353.5,1381.7 356.7,1380.3 359.9,1379.3 363.1,1378.4 366.3,1377.0 370.1,1375.0 373.9,1373.3 377.1,1371.6 380.3,1370.2 383.4,1368.2 387.3,1367.1 391.1,1366.8 393.6,1365.2 396.2,1363.7 398.7,1362.4 402.5,1360.2 406.3,1357.8 410.2,1357.5 414.0,1356.5 416.4,1353.7 418.7,1350.9 421.1,1348.8 423.5,1346.0 426.4,1344.3 431.1,1345.9 434.0,1342.6 436.9,1339.4 439.7,1335.8 442.6,1332.2 445.0,1329.5 447.4,1326.9 449.1,1323.3 450.9,1319.5 452.6,1316.0 454.0,1312.0 455.5,1308.3 456.9,1304.6 460.2,1302.7 463.6,1299.9 466.5,1296.8 469.3,1293.8 470.7,1291.0 472.2,1288.2 474.1,1286.2 476.0,1284.1 479.3,1281.0 482.7,1278.0 484.6,1275.4 486.5,1272.8 488.4,1270.6 490.9,1268.1 493.5,1265.3 496.0,1262.5 497.0,1260.0 497.9,1257.3 498.9,1254.6 501.8,1250.9 504.6,1247.6 506.5,1244.1 508.4,1240.2 510.0,1237.2 511.5,1233.5 513.0,1230.7 514.6,1227.0 516.1,1223.9 517.6,1220.4 519.1,1217.6 522.0,1214.4 524.8,1211.4 526.0,1208.1 527.1,1205.0 528.3,1201.5 529.4,1198.5 530.5,1195.2 532.4,1191.8 534.3,1189.1 536.2,1185.8 538.1,1182.5 540.0,1179.2 542.5,1176.2 545.1,1172.9 547.6,1170.2 549.8,1168.1 552.0,1165.2 554.2,1162.4 556.4,1160.2 557.6,1156.4 558.9,1152.8 560.1,1149.3 561.4,1145.3 563.5,1142.7 565.5,1140.6 567.6,1137.9 570.6,1134.8 573.5,1132.3 576.4,1129.5 578.3,1125.8 580.2,1121.9 582.2,1119.1 584.3,1116.7 586.4,1114.4 588.9,1111.2 591.4,1107.7 593.9,1105.5 596.4,1103.4 598.9,1101.7 602.1,1101.7 605.2,1101.6 607.7,1098.7 610.2,1095.1 614.0,1093.1 617.7,1090.7 620.2,1093.4 624.0,1093.5 627.7,1092.8 631.5,1093.2 635.3,1090.6 638.4,1089.9 641.5,1089.0 645.3,1088.7 649.0,1088.9 652.2,1089.9 655.3,1090.8 658.4,1093.9 661.6,1096.1 664.1,1097.8 666.6,1099.8 670.3,1099.3 674.1,1099.9 677.2,1100.7 680.3,1102.2 683.5,1104.1 686.6,1106.4 689.7,1108.9 692.9,1111.1 697.0,1111.8 701.2,1111.9 705.4,1112.4 709.1,1114.2 712.9,1116.0 716.5,1116.0 720.1,1115.7 723.6,1116.3 727.2,1115.6 730.8,1116.2 734.4,1116.4 738.0,1116.2 740.9,1115.3 743.8,1114.2 746.7,1113.1 749.2,1110.2 751.7,1107.6 753.6,1103.8 755.5,1100.0 758.3,1098.1 761.2,1095.3 764.0,1092.6 765.0,1094.9 767.5,1092.7 770.0,1090.1 772.5,1087.6 775.0,1084.8 777.5,1082.2 780.0,1079.5 782.5,1077.0 785.0,1074.2 787.5,1071.9 790.0,1069.0 792.5,1065.8 795.0,1063.0 797.5,1060.0 800.0,1057.4 802.5,1054.9 805.0,1052.8 807.5,1049.9 810.0,1047.8 812.5,1044.9 814.4,1042.2 816.2,1039.0 818.1,1035.4 820.0,1032.6 821.2,1029.4 822.5,1026.4 823.8,1023.2 825.0,1020.6 826.2,1017.3 828.1,1015.1 830.0,1012.5 831.6,1009.5 833.1,1006.2 834.7,1002.8 836.2,1000.1 837.3,997.0 838.3,993.5 839.4,990.7 840.4,987.7 841.5,984.1 842.5,980.7 843.9,977.4 845.4,973.6 846.8,970.3 848.2,966.7 849.6,963.3 851.1,959.7 852.5,956.2 853.9,952.7 855.4,949.1 856.8,945.4 858.2,941.7 859.6,937.9 861.1,934.2 862.5,931.1 863.6,927.3 864.6,923.7 865.7,920.1 866.8,916.7 867.9,913.2 868.9,909.8 870.0,906.1 871.1,902.4 872.1,898.9 873.2,895.5 874.3,892.0 875.4,888.2 876.4,884.8 877.5,881.4 878.4,877.9 879.3,873.9 880.2,870.2 881.1,866.8 882.0,863.4 882.9,859.4 883.8,855.9 884.4,852.4 885.1,848.9 885.8,845.3 886.5,841.4 887.2,837.8 887.9,834.1 888.6,830.5 889.3,827.0 890.0,823.6 890.6,820.2 891.2,816.6 891.9,813.1 892.5,809.6 893.1,806.3 893.8,802.9 894.4,799.3 895.0,796.1 895.6,792.3 896.2,788.8 896.9,784.9 897.5,781.1 898.1,777.3 898.8,773.6 899.4,770.0 900.0,766.3 900.6,762.7 901.2,759.1 901.9,755.3 902.5,752.1 903.1,748.5 903.8,744.9 904.4,741.2 905.0,737.6 905.6,734.3 906.2,731.1 906.8,727.7 907.2,724.2 907.8,720.7 908.2,717.0 908.8,713.3 909.2,710.0 909.8,706.3 910.2,702.9 910.8,699.5 911.2,696.0 911.7,692.2 912.1,688.5 912.5,685.0 912.9,681.3 913.3,677.9 913.8,674.2 914.2,670.7 914.6,667.2 915.0,663.6 915.6,660.0 916.1,656.2 916.7,652.5 917.2,649.2 917.8,645.4 918.3,641.7 918.9,638.2 919.4,634.6 920.0,631.1 920.7,627.4 921.4,624.1 922.1,620.1 922.9,616.8 923.6,613.2 924.3,609.8 925.0,605.9 925.7,602.5 926.4,599.1 927.1,595.5 927.9,591.6 928.6,588.3 929.3,584.9 930.0,580.9 931.2,581.3 931.8,577.5 932.2,574.0 932.8,570.8 933.2,567.5 933.8,564.3 934.2,560.8 934.8,557.3 935.2,553.7 935.8,550.4 936.2,547.2 936.8,543.5 937.4,540.0 938.0,536.1 938.5,532.6 939.1,529.0 939.7,525.0 940.2,521.6 940.8,517.8 941.4,514.1 941.9,510.3 942.5,506.9 943.1,503.2 943.6,499.9 944.2,496.0 944.7,492.6 945.3,489.1 945.8,485.4 946.4,481.8 946.9,478.3 947.5,474.7 948.3,470.6 949.2,467.1 950.0,463.2 950.8,459.5 951.7,455.8 952.5,452.2 953.6,448.5 954.6,445.1 955.7,441.1 956.8,437.5 957.9,434.2 958.9,430.6 960.0,427.2 961.2,423.6 962.5,420.5 963.8,417.3 965.0,413.6 966.2,410.1 967.5,406.9 969.0,404.3 970.5,401.2 972.0,398.0 973.5,395.0 975.0,392.2 977.5,389.6 980.0,387.1 982.5,384.6 985.0,382.4 987.5,379.5 990.0,376.5 992.5,373.0 995.0,370.1 997.5,367.3 998.8,364.2 1000.0,361.2 1001.2,358.1 1002.5,354.5 1004.6,351.6 1006.7,348.5 1008.8,345.5 1010.8,342.7 1012.9,340.2 1015.0,337.4 1016.5,333.4 1018.0,329.8 1019.5,326.3 1021.0,323.2 1022.5,319.6 1024.5,316.3 1026.5,313.4 1028.5,310.3 1030.5,307.0 1032.5,304.4 1035.8,303.3 1039.2,301.6 1042.5,300.0 1045.8,297.7 1049.2,296.2 1052.5,294.6 1055.0,292.3 1057.5,289.6 1060.0,286.6 1063.8,289.2 1067.5,290.6 1070.8,291.0 1074.2,290.8 1077.5,291.1 1080.0,292.8 1082.5,294.5 1085.0,296.8 1087.5,300.2 1090.0,303.8 1092.5,307.0 1093.6,310.3 1094.6,313.4 1095.7,316.8 1096.8,319.7 1097.9,323.2 1098.9,326.6 1100.0,329.4 1102.5,332.9 1105.0,336.1 1107.5,339.2 1110.0,341.8 1111.5,345.1 1113.0,348.2 1114.5,351.2 1116.0,354.4 1117.5,357.5 1120.0,360.5 1122.5,363.8 1125.0,366.3 1127.5,369.3 1130.6,371.9 1133.8,374.5 1136.9,377.4 1140.0,379.8 1142.5,382.9 1145.0,386.0 1147.5,389.3 1150.0,392.1 1152.5,394.5 1155.0,396.6 1157.5,398.6 1160.0,400.6 1163.8,399.1 1167.5,397.5 1170.0,399.9 1172.5,402.0 1175.0,403.9 1178.3,404.6 1181.7,405.0 1185.0,406.1 1188.3,407.4 1191.7,408.6 1195.0,410.0 1196.9,412.7 1198.8,415.5 1200.6,418.8 1202.5,421.8 1203.8,425.5 1205.0,428.7 1206.2,432.3 1207.5,435.3 1208.8,438.4 1210.0,442.0 1211.5,445.1 1213.0,447.9 1214.5,451.2 1216.0,454.4 1217.5,457.3 1220.0,460.9 1222.5,464.3 1225.0,467.0 1226.5,470.2 1228.0,473.2 1229.5,476.3 1231.0,479.0 1232.5,482.0 1235.0,485.0 1237.5,488.2 1240.0,490.5 1243.3,490.1 1246.7,489.6 1250.0,489.7 1253.1,490.1 1256.2,490.8 1259.4,491.6 1262.5,492.5 1265.0,490.7 1267.5,489.0 1270.0,486.6 1272.5,484.1 1275.0,482.4 1277.5,480.2 1280.0,478.2 1283.8,478.5 1287.5,478.3 1291.2,478.5 1295.0,478.5 1298.1,477.5 1301.2,476.2 1304.4,475.1 1307.5,473.8 1310.8,475.4 1314.2,477.4 1317.5,479.8 1321.0,481.6 1324.5,483.3 1328.0,485.0 1330.5,485.1 1333.0,487.6 1335.5,490.4 1338.0,492.7 1340.5,495.6 1343.0,498.0 1345.5,500.4 1348.0,502.5 1351.1,500.9 1354.2,499.3 1357.4,498.6 1360.5,497.3 1364.2,498.1 1368.0,498.9 1371.8,499.7 1375.5,499.7 1378.6,496.7 1381.8,494.8 1384.9,492.2 1388.0,489.8 1391.5,489.7 1395.0,489.0 1398.5,488.8 1402.0,488.1 1405.5,488.2 1408.8,486.1 1412.2,484.3 1415.5,481.7 1418.8,482.4 1422.2,483.3 1425.5,483.8 1429.2,484.1 1433.0,484.8 1435.5,482.5 1438.0,479.4 1440.5,477.3 1443.0,474.4 1446.3,474.6 1449.7,475.3 1453.0,475.5 1456.3,474.1 1459.7,472.6 1463.0,471.4 1465.9,469.7 1468.8,468.8 1471.8,466.6 1474.9,470.0 1478.0,472.9 1480.0,476.3 1482.0,478.9 1484.0,482.0 1486.0,485.3 1488.0,487.9 1492.4,488.0 1496.8,487.9 1499.7,491.0 1502.6,494.1 1505.5,496.6 1506.8,500.4 1508.0,503.6 1509.2,507.1 1510.5,510.2 1511.8,513.3 1513.0,516.7 1516.1,518.3 1519.2,520.2 1522.4,522.0 1525.5,523.8 1528.0,527.3 1530.5,530.1 1533.0,532.9 1535.5,535.8 1537.0,539.0 1538.5,541.5 1540.0,544.3 1541.5,547.7 1543.0,550.4 1545.5,552.8 1548.0,555.2 1550.5,557.7 1553.0,559.2 1554.2,563.1 1555.5,566.8 1556.8,570.7 1558.0,574.2 1559.2,577.8 1560.5,581.3 1562.2,584.5 1563.8,587.9 1565.5,591.3 1567.2,594.7 1568.8,598.1 1570.5,601.2 1573.0,603.9 1575.5,607.4 1578.0,610.7 1580.5,613.8 1581.6,616.7 1582.6,620.2 1583.7,623.4 1584.8,626.3 1585.9,629.7 1586.9,632.7 1588.0,635.8 1589.1,639.5 1590.2,642.5 1591.3,646.1 1592.4,649.3 1593.6,652.7 1594.7,656.1 1595.8,659.6 1596.9,662.6 1598.0,665.7 1598.7,669.5 1599.4,672.9 1600.1,676.6 1600.9,680.0 1601.6,683.5 1602.3,687.3 1603.0,690.7 1603.8,694.4 1604.7,698.0 1605.5,701.5 1606.3,705.5 1607.2,709.3 1608.0,712.5 1608.8,716.4 1609.7,719.8 1610.5,723.6 1611.2,726.8 1612.0,730.5 1612.8,734.2 1613.5,737.5 1614.2,740.8 1615.0,744.3 1615.8,748.1 1616.5,751.7 1617.2,754.9 1618.0,758.7 1618.8,762.2 1619.5,765.8 1620.2,769.4 1621.0,772.5 1621.8,776.1 1622.5,779.3 1623.2,782.7 1624.0,786.4 1624.8,789.8 1625.5,793.3 1626.1,796.8 1626.8,800.3 1627.4,804.0 1628.0,807.4 1628.6,810.8 1629.2,814.3 1629.9,817.5 1630.5,821.1 1631.2,824.7 1632.0,828.3 1632.8,831.6 1633.5,835.1 1634.2,838.3 1635.0,841.9 1635.8,845.5 1636.5,849.3 1637.2,852.8 1638.0,856.1 1638.8,859.7 1639.5,863.3 1640.2,866.9 1641.0,870.3 1641.8,873.5 1642.5,877.2 1643.2,880.3 1644.0,884.0 1644.8,887.5 1645.5,891.2 1646.2,894.6 1647.0,897.9 1647.8,901.3 1648.5,904.7 1649.2,908.5 1650.0,912.1 1650.8,915.5 1651.5,918.9 1652.2,922.5 1653.0,925.8 1653.8,929.4 1654.5,932.9 1655.2,936.4 1656.0,940.0 1656.8,943.4 1657.5,946.9 1658.2,950.5 1659.0,954.2 1659.8,957.4 1660.5,960.9 1661.2,964.4 1661.9,967.9 1662.5,971.5 1663.2,975.3 1663.9,978.6 1664.6,982.3 1665.3,985.8 1666.0,989.4 1666.6,992.9 1667.3,996.5 1668.0,999.9 1668.6,1003.6 1669.1,1007.2 1669.7,1011.0 1670.2,1014.5 1670.8,1018.1 1671.3,1021.9 1671.9,1025.2 1672.4,1028.6 1673.0,1032.2 1673.7,1035.9 1674.4,1039.1 1675.0,1042.7 1675.7,1045.9 1676.4,1049.3 1677.1,1052.9 1677.8,1056.1 1678.5,1059.6 1679.1,1063.4 1679.8,1066.8 1680.5,1070.0 1681.2,1073.7 1682.0,1077.1 1682.8,1080.7 1683.5,1084.0 1684.2,1087.4 1685.0,1091.1 1685.8,1094.7 1686.5,1098.2 1687.2,1101.4 1688.0,1104.9 1689.0,1108.4 1690.0,1111.8 1691.0,1115.2 1692.0,1119.0 1693.0,1122.3 1694.0,1125.8 1695.0,1129.1 1696.0,1133.0 1697.0,1136.6 1698.0,1139.8 1698.8,1143.5 1699.7,1147.0 1700.5,1150.3 1701.3,1153.6 1702.2,1156.9 1703.0,1159.8 1703.8,1163.1 1704.7,1166.4 1705.5,1169.6 1706.3,1173.2 1707.2,1176.7 1708.0,1179.9 1708.8,1183.4 1709.7,1186.6 1710.5,1189.8 1711.3,1193.0 1712.2,1196.4 1713.0,1200.1 1714.8,1203.1 1716.5,1206.4 1718.2,1209.6 1720.0,1212.7 1720.7,1215.8 1721.5,1219.5 1722.2,1222.5 1722.9,1225.9 1723.7,1229.6 1724.4,1233.0 1725.1,1236.2 1726.0,1239.8 1726.8,1243.3 1727.7,1246.7 1728.5,1249.9 1729.4,1253.4 1730.2,1256.8 1731.2,1260.3 1732.3,1263.6 1733.3,1267.1 1734.3,1270.4 1735.3,1273.5 1736.4,1276.9 1737.4,1280.1 1738.8,1283.2 1740.1,1286.0 1741.5,1289.4 1743.0,1292.4 1744.5,1295.9 1746.1,1299.3 1747.3,1302.3 1748.6,1305.6 1749.8,1308.7 1750.9,1311.7 1751.9,1314.8 1752.9,1318.0 1754.1,1321.0 1755.4,1323.7 1756.7,1327.0 1758.4,1330.0 1760.2,1333.1 1762.0,1336.0 1763.7,1338.9 1765.5,1341.4 1767.3,1343.9 1769.5,1346.0 1771.8,1348.1 1774.8,1348.3 1777.9,1348.7 1780.9,1349.9 1783.9,1350.8 1787.7,1352.2 1792.3,1349.8 1796.1,1349.3 1799.8,1349.2 1803.6,1349.0 1807.4,1348.2 1811.2,1347.1 1815.0,1346.2 1820.3,1346.4 1824.8,1347.8 1827.5,1347.0 1830.2,1346.5 1833.9,1346.6 1837.7,1345.8 1841.5,1345.2 1845.8,1344.8 1850.0,1344.7 1852.7,1342.7 1855.4,1340.5 1858.1,1339.0 1861.5,1339.3 1864.9,1339.9 1870.0,1341.7 1874.3,1339.6 1878.5,1338.1 1882.8,1337.8 1887.0,1336.8 1890.5,1339.3 1893.9,1340.8 1896.4,1338.8 1899.0,1336.2 1903.2,1335.5 1907.5,1335.5 1910.1,1333.6 1912.6,1331.8 1916.0,1331.4 1919.4,1331.9 1922.0,1334.0 1924.5,1336.5 1928.0,1338.9 1931.4,1341.2 1933.6,1339.2 1935.9,1336.8 1938.2,1334.8 1941.6,1334.4 1945.0,1333.6 1947.6,1335.2 1950.1,1336.4 1954.4,1335.9 1958.6,1335.8 1963.8,1334.0 1967.2,1333.7 1970.6,1334.5 1973.1,1336.1 1975.7,1336.8 1979.1,1337.0 1982.5,1337.0 1985.9,1336.6 1989.3,1336.8 1991.9,1338.7 1994.4,1340.8 1998.7,1340.9 2003.0,1340.5 2005.2,1343.1 2007.5,1346.4 2009.8,1349.1 2012.0,1351.6 2014.3,1354.8 2016.6,1357.3 2019.4,1358.8 2022.3,1359.5 2025.1,1361.1 2028.0,1362.0 2030.8,1363.4 2033.6,1363.9 2036.5,1365.0 2039.3,1366.1 2042.2,1367.7 2045.6,1370.5 2049.0,1372.5 2054.1,1372.4 2056.4,1370.2 2058.6,1368.1 2060.9,1366.0 2064.3,1367.2 2067.7,1368.7 2071.6,1370.6 2075.4,1372.9 2077.5,1372.9"/>
<polyline stroke="#8E8E00" points="339.1,1387.9 341.1,1385.9 343.2,1383.8 345.3,1381.1 347.5,1378.7 349.7,1375.4 351.9,1372.7 354.2,1369.2 356.4,1366.4 358.6,1362.9 361.2,1360.0 363.7,1356.9 366.3,1353.9 368.2,1350.8 370.1,1348.2 372.0,1345.5 374.5,1342.0 377.1,1339.2 379.6,1336.8 382.2,1334.2 384.7,1331.4 387.3,1328.6 389.8,1326.5 392.3,1323.4 394.9,1321.2 397.4,1318.9 400.0,1315.9 402.5,1313.3 405.4,1310.7 408.2,1308.3 411.1,1305.7 414.4,1303.8 417.8,1301.6 420.3,1298.6 422.9,1296.4 425.4,1293.2 428.3,1290.6 431.1,1288.6 434.5,1286.5 437.8,1284.3 440.1,1282.3 442.3,1280.0 444.5,1277.3 446.4,1274.6 448.3,1271.9 450.2,1268.5 452.8,1265.7 455.3,1262.6 457.9,1259.6 460.4,1257.3 463.0,1255.0 465.5,1252.8 468.0,1249.7 470.6,1247.3 473.1,1245.2 475.5,1242.8 477.9,1240.2 479.9,1236.7 481.9,1233.7 483.9,1230.4 485.9,1227.4 487.9,1224.3 489.9,1221.0 491.9,1218.1 493.9,1214.8 495.7,1211.5 497.4,1208.4 499.2,1204.9 500.9,1201.4 502.7,1198.4 504.4,1195.1 506.2,1192.1 507.9,1188.5 509.7,1185.2 511.2,1181.9 512.8,1179.0 514.4,1175.9 516.0,1173.0 517.5,1170.1 519.0,1166.3 520.5,1163.4 522.0,1160.0 523.5,1156.6 525.0,1153.0 526.9,1149.6 528.8,1146.0 530.7,1142.5 532.6,1138.9 534.1,1135.8 535.6,1132.8 537.1,1129.8 538.6,1127.2 540.1,1124.4 541.6,1121.3 543.1,1117.8 544.6,1114.8 546.1,1111.9 547.6,1109.1 549.5,1105.6 551.3,1102.2 553.2,1099.0 555.1,1095.2 557.0,1092.3 558.9,1089.8 560.7,1086.7 562.6,1084.1 563.9,1080.2 565.1,1076.2 566.4,1072.6 568.9,1069.8 571.4,1067.8 573.9,1065.5 577.6,1063.5 581.4,1061.9 584.2,1058.9 587.0,1056.4 589.9,1053.6 592.7,1050.9 595.8,1050.3 598.9,1048.5 602.1,1046.0 605.2,1042.8 609.0,1045.4 614.0,1044.8 616.2,1042.5 618.3,1039.8 620.5,1036.5 622.7,1033.5 626.5,1033.3 629.0,1036.5 631.5,1039.1 634.0,1037.4 636.5,1035.2 641.5,1035.4 644.6,1032.2 647.8,1029.6 651.5,1032.6 654.8,1032.8 658.0,1032.6 661.3,1033.2 664.6,1033.3 667.8,1033.3 670.3,1030.3 672.8,1027.4 677.2,1027.2 681.6,1027.0 684.1,1030.3 686.6,1032.5 689.7,1034.8 692.9,1036.3 695.4,1038.6 697.9,1040.6 701.6,1040.5 705.4,1040.9 709.1,1041.0 712.9,1041.3 714.8,1043.0 716.7,1045.0 720.4,1044.6 724.2,1044.6 727.9,1045.4 731.7,1045.4 734.8,1042.7 738.0,1040.0 740.5,1038.5 743.0,1036.7 746.1,1034.0 749.2,1031.5 751.7,1033.0 754.2,1035.2 756.7,1032.9 759.2,1030.0 760.8,1027.0 762.4,1024.0 764.0,1021.4 766.4,1019.1 768.8,1016.2 771.2,1013.5 774.4,1014.0 777.5,1015.3 780.0,1012.9 782.5,1010.9 785.0,1008.1 787.5,1005.9 790.0,1003.7 792.5,1001.7 794.5,998.3 796.5,995.0 798.5,992.3 800.5,989.5 802.5,986.2 805.0,984.3 807.5,982.2 810.0,980.7 812.5,977.9 815.0,974.3 817.5,971.0 818.8,967.7 820.0,964.2 821.2,960.7 822.5,957.5 823.8,954.6 825.0,951.3 826.4,947.8 827.9,944.8 829.3,941.7 830.7,938.3 832.1,934.9 833.6,931.5 835.0,928.5 836.1,925.4 837.1,922.0 838.2,918.6 839.3,915.3 840.4,912.5 841.4,909.5 842.5,906.1 843.3,902.5 844.2,898.9 845.0,895.1 845.8,891.5 846.7,887.9 847.5,884.5 848.3,880.6 849.2,877.3 850.0,873.4 850.8,870.0 851.5,866.7 852.2,862.9 853.0,859.4 853.8,855.7 854.5,852.4 855.2,848.9 856.0,845.7 856.8,842.1 857.5,838.8 858.6,835.1 859.7,831.6 860.8,827.7 861.9,823.8 863.1,820.4 864.2,816.6 865.3,813.2 866.4,809.4 867.5,806.0 868.2,802.6 869.0,799.3 869.8,795.5 870.5,791.8 871.2,788.4 872.0,785.2 872.8,781.5 873.5,778.0 874.2,774.4 875.0,770.7 875.8,767.4 876.5,763.9 877.2,760.4 878.0,757.1 878.8,753.6 879.5,749.9 880.2,746.5 881.0,743.0 881.8,739.7 882.5,735.8 883.2,732.3 884.0,729.0 884.8,725.5 885.5,722.0 886.2,718.5 887.0,715.1 887.8,711.7 888.5,708.3 889.2,704.8 890.0,701.3 890.7,697.8 891.4,694.1 892.0,690.7 892.7,687.5 893.4,684.2 894.1,680.7 894.8,677.0 895.5,673.5 896.1,670.3 896.8,666.9 897.5,663.3 898.1,660.2 898.6,656.6 899.2,653.5 899.8,650.0 900.3,646.7 900.9,643.3 901.5,639.6 902.0,636.1 902.6,632.9 903.2,629.4 903.8,626.0 904.4,622.4 905.0,618.6 905.6,614.9 906.2,611.1 906.9,607.2 907.5,603.6 908.1,599.6 908.8,596.0 909.4,592.4 910.0,588.4 910.6,584.5 911.2,581.1 911.8,577.2 912.3,573.6 912.8,569.9 913.3,566.1 913.9,562.4 914.4,558.7 914.9,555.4 915.4,551.8 915.9,548.2 916.5,544.3 917.0,540.5 917.5,536.7 918.1,533.3 918.8,529.8 919.4,526.1 920.0,522.3 920.6,518.5 921.2,514.6 921.9,510.6 922.5,506.7 923.1,503.3 923.6,500.0 924.2,496.5 924.7,492.7 925.3,489.0 925.8,485.5 926.4,481.7 926.9,478.2 927.5,474.6 928.1,470.9 928.6,467.2 929.2,463.5 929.7,459.8 930.3,456.2 930.8,453.0 931.4,449.4 931.9,445.5 932.5,442.1 933.1,438.1 933.8,434.5 934.4,430.9 935.0,427.3 935.6,423.6 936.2,419.9 936.9,416.0 937.5,411.9 938.2,408.2 938.9,404.9 939.6,401.3 940.4,398.0 941.1,394.1 941.8,390.7 942.5,387.1 943.2,383.6 944.0,379.8 944.8,376.4 945.5,372.9 946.2,369.6 947.0,366.2 947.8,362.8 948.6,359.4 949.4,355.8 950.2,352.2 950.9,349.1 951.7,345.6 952.5,342.1 953.6,339.1 954.6,335.9 955.7,332.7 956.8,329.6 957.9,326.1 958.9,323.0 960.0,319.7 961.2,315.8 962.5,312.0 963.8,308.0 965.0,304.6 966.6,301.8 968.1,298.3 969.7,295.5 971.2,291.9 973.5,288.9 975.8,286.4 978.0,283.3 980.2,279.8 982.5,277.0 985.0,273.6 987.5,271.0 990.0,268.1 992.5,265.2 995.0,262.2 996.9,258.7 998.8,255.9 1000.6,252.9 1002.5,249.9 1006.2,248.8 1010.0,247.9 1012.5,245.5 1015.0,243.0 1017.5,240.0 1020.0,236.9 1021.2,233.8 1022.5,230.5 1023.8,227.5 1025.0,224.8 1028.1,224.2 1031.2,223.1 1034.4,223.0 1037.5,222.6 1040.0,219.7 1042.5,216.6 1045.0,214.5 1047.5,211.8 1050.0,209.1 1051.2,207.1 1052.5,204.5 1055.6,202.3 1058.8,200.4 1061.9,202.4 1065.0,203.3 1068.1,206.4 1071.2,209.3 1074.4,209.6 1077.5,210.1 1080.6,208.1 1083.8,206.6 1086.9,208.6 1090.0,210.8 1091.5,214.0 1093.0,217.1 1094.5,219.7 1096.0,222.8 1097.5,225.5 1100.0,226.7 1102.5,228.0 1105.8,229.3 1109.2,231.0 1112.5,232.0 1114.5,234.8 1116.5,238.0 1118.5,240.8 1120.5,244.2 1122.5,246.8 1124.0,249.9 1125.5,253.1 1127.0,256.4 1128.5,260.0 1130.0,263.0 1133.8,264.5 1137.5,266.2 1140.0,268.2 1142.5,270.9 1145.0,273.5 1146.2,277.1 1147.5,280.5 1148.8,283.8 1150.0,287.1 1152.5,289.8 1155.0,292.5 1157.5,295.2 1161.2,296.3 1165.0,296.7 1167.5,294.1 1170.0,291.8 1172.5,294.5 1175.0,297.8 1177.5,301.1 1179.2,304.6 1180.8,308.0 1182.5,311.6 1185.6,313.5 1188.8,316.0 1191.9,318.2 1195.0,319.9 1197.5,322.1 1200.0,324.2 1202.5,327.2 1205.0,329.1 1206.1,332.4 1207.1,335.9 1208.2,339.3 1209.3,342.2 1210.4,345.8 1211.4,349.0 1212.5,352.2 1214.2,355.2 1215.8,358.8 1217.5,361.7 1221.2,362.6 1225.0,362.7 1227.5,366.2 1230.0,369.2 1232.5,372.1 1234.4,375.1 1236.2,378.4 1238.1,381.1 1240.0,384.1 1242.5,386.4 1245.0,389.3 1247.5,391.5 1251.2,389.4 1255.0,388.3 1257.5,389.8 1260.0,391.4 1262.5,393.5 1265.8,393.6 1269.2,394.4 1272.5,395.2 1275.0,392.0 1277.5,389.2 1280.0,386.5 1282.5,384.0 1285.8,384.8 1289.2,385.8 1292.5,386.3 1296.0,385.0 1299.5,383.1 1303.0,382.4 1306.5,380.9 1310.0,379.8 1312.5,381.6 1315.0,384.4 1317.5,386.3 1320.0,388.3 1322.5,391.0 1325.2,391.0 1328.0,390.8 1330.5,388.2 1333.0,385.9 1335.5,383.2 1339.2,384.5 1343.0,385.8 1346.1,387.8 1349.2,389.9 1352.4,392.0 1355.5,394.6 1360.5,394.7 1363.6,391.2 1366.8,387.9 1370.5,388.6 1374.2,389.5 1377.4,392.0 1380.5,394.6 1384.2,392.9 1388.0,390.7 1390.8,388.1 1393.6,386.3 1396.4,384.2 1399.2,381.9 1403.6,382.4 1408.0,381.8 1411.1,382.1 1414.2,383.2 1417.1,380.6 1419.9,378.3 1422.7,375.4 1425.5,373.1 1428.8,373.3 1432.2,373.2 1435.5,372.8 1438.0,370.2 1440.5,367.8 1443.0,365.4 1445.5,363.4 1448.0,360.4 1450.1,357.9 1452.2,355.3 1454.2,352.2 1456.8,353.0 1459.2,354.5 1462.4,358.0 1465.5,360.8 1469.7,361.0 1473.8,360.6 1478.0,360.4 1480.5,363.0 1483.0,365.7 1485.5,368.6 1488.0,370.6 1490.5,372.8 1492.0,375.9 1493.5,379.2 1495.0,382.3 1496.5,385.3 1498.0,388.4 1501.1,390.5 1504.2,392.3 1507.4,395.1 1510.5,397.0 1512.0,400.2 1513.5,403.6 1515.0,407.2 1516.5,411.0 1518.0,414.4 1520.0,417.2 1522.0,420.5 1524.0,423.6 1526.0,426.7 1528.0,429.4 1530.5,432.1 1533.0,434.4 1535.5,436.5 1538.0,439.1 1540.5,440.9 1543.0,443.0 1544.2,446.5 1545.5,449.9 1546.8,453.3 1548.0,456.3 1549.2,460.0 1550.5,463.6 1553.0,465.6 1555.5,468.1 1558.0,469.9 1560.5,472.0 1563.0,474.6 1565.5,477.3 1566.8,480.3 1568.0,483.2 1569.2,486.1 1570.5,489.7 1572.0,492.7 1573.5,495.9 1575.0,498.5 1576.5,501.7 1578.0,504.4 1579.0,507.7 1580.0,511.3 1581.0,514.8 1582.0,518.6 1583.0,522.0 1585.5,525.2 1588.0,528.9 1590.5,532.4 1591.3,535.5 1592.2,538.9 1593.0,541.9 1593.8,545.2 1594.7,548.8 1595.5,552.1 1596.5,555.3 1597.5,558.7 1598.5,562.6 1599.5,566.0 1600.5,569.8 1601.8,573.7 1603.0,577.4 1604.2,581.3 1605.5,581.0 1606.3,584.5 1607.2,587.5 1608.0,590.9 1608.8,594.0 1609.7,597.4 1610.5,601.1 1611.3,604.5 1612.2,607.5 1613.0,611.1 1613.8,614.6 1614.7,618.0 1615.5,621.1 1616.3,624.2 1617.2,627.8 1618.0,631.1 1618.8,634.1 1619.7,637.6 1620.5,641.0 1621.3,644.8 1622.2,648.4 1623.0,651.8 1623.8,655.2 1624.7,658.7 1625.5,662.3 1626.3,666.1 1627.2,669.7 1628.0,673.7 1628.7,677.0 1629.4,680.5 1630.0,683.9 1630.7,687.3 1631.4,690.8 1632.1,694.3 1632.8,697.6 1633.5,700.9 1634.1,704.4 1634.8,707.6 1635.5,710.9 1636.2,714.1 1636.9,717.5 1637.5,720.9 1638.2,724.3 1638.9,727.8 1639.6,731.5 1640.3,735.1 1641.0,738.5 1641.6,741.9 1642.3,745.2 1643.0,748.4 1643.8,752.1 1644.5,755.6 1645.2,759.0 1646.0,762.7 1646.8,766.3 1647.5,769.5 1648.2,772.7 1649.0,776.3 1649.8,780.0 1650.5,783.5 1651.2,786.8 1651.9,790.1 1652.5,793.6 1653.2,796.9 1653.9,800.4 1654.6,804.1 1655.3,807.6 1656.0,811.0 1656.6,814.1 1657.3,817.5 1658.0,820.8 1658.7,824.1 1659.4,827.5 1660.0,830.8 1660.7,834.6 1661.4,837.9 1662.1,841.5 1662.8,844.9 1663.5,848.1 1664.1,851.7 1664.8,855.1 1665.5,858.3 1666.1,861.9 1666.8,865.5 1667.4,869.0 1668.0,872.6 1668.6,876.1 1669.2,879.9 1669.9,883.2 1670.5,886.9 1671.1,890.3 1671.8,893.6 1672.4,897.5 1673.0,901.2 1673.7,904.7 1674.4,908.5 1675.0,911.9 1675.7,915.5 1676.4,919.3 1677.1,923.0 1677.8,926.8 1678.5,930.2 1679.1,933.9 1679.8,937.6 1680.5,941.2 1681.2,944.5 1682.0,948.2 1682.8,951.8 1683.5,954.9 1684.2,958.4 1685.0,962.2 1685.8,965.8 1686.5,969.2 1687.2,972.4 1688.0,976.1 1688.7,979.4 1689.4,982.7 1690.1,986.3 1690.9,989.7 1691.6,993.4 1692.3,996.9 1693.0,999.9 1693.7,1003.3 1694.4,1006.8 1695.1,1010.4 1695.9,1014.0 1696.6,1017.7 1697.3,1021.1 1698.0,1025.0 1698.8,1028.8 1699.7,1032.2 1700.5,1035.8 1701.3,1039.5 1702.2,1043.3 1703.0,1046.9 1703.8,1050.2 1704.7,1053.9 1705.5,1057.4 1706.2,1061.2 1707.0,1064.8 1707.8,1068.1 1708.5,1071.8 1709.2,1075.3 1710.0,1078.8 1710.8,1082.1 1711.5,1085.7 1712.2,1088.9 1713.0,1092.6 1713.8,1096.1 1714.7,1099.9 1715.5,1103.4 1716.3,1106.9 1717.2,1110.4 1718.0,1114.0 1718.8,1117.9 1719.7,1121.4 1720.5,1124.9 1721.3,1128.8 1722.2,1132.5 1723.0,1135.7 1723.8,1139.4 1724.7,1143.3 1725.5,1146.7 1726.3,1150.0 1727.2,1153.8 1728.0,1157.6 1728.8,1161.4 1729.6,1165.2 1730.4,1168.8 1731.2,1172.5 1732.0,1176.0 1732.8,1180.1 1734.2,1183.8 1735.6,1186.7 1737.0,1190.0 1738.2,1192.9 1739.3,1196.2 1740.5,1199.6 1741.6,1202.7 1742.7,1205.7 1743.9,1208.9 1744.8,1212.4 1745.8,1215.8 1746.8,1219.2 1747.8,1222.6 1748.7,1226.0 1749.7,1229.5 1750.7,1232.8 1752.0,1236.5 1753.2,1239.9 1754.5,1243.4 1755.8,1246.7 1757.9,1250.0 1760.1,1252.3 1762.2,1255.2 1764.3,1258.3 1766.0,1262.1 1767.7,1265.3 1769.4,1268.5 1771.1,1272.0 1773.6,1275.1 1776.1,1277.1 1778.6,1279.5 1780.7,1282.7 1782.7,1285.2 1784.7,1288.5 1787.2,1290.0 1789.7,1292.4 1792.3,1294.2 1796.1,1296.3 1799.8,1298.4 1802.9,1300.2 1805.9,1301.9 1808.9,1302.4 1812.0,1302.1 1815.0,1301.7 1817.3,1299.1 1819.5,1297.3 1824.1,1299.3 1828.6,1299.6 1831.3,1298.4 1833.9,1297.2 1837.7,1296.6 1841.5,1295.9 1845.8,1295.4 1850.0,1295.6 1853.3,1295.5 1856.5,1295.0 1859.8,1294.6 1864.9,1293.1 1870.0,1291.8 1872.8,1289.6 1875.7,1286.5 1878.5,1284.4 1881.9,1284.3 1885.3,1283.2 1888.8,1282.5 1892.2,1281.8 1895.6,1280.7 1899.0,1279.6 1903.2,1280.4 1907.5,1282.0 1910.3,1284.2 1913.2,1286.5 1916.0,1288.4 1919.4,1289.8 1922.8,1290.9 1926.2,1291.3 1929.7,1290.7 1933.1,1290.8 1936.5,1290.6 1939.0,1292.4 1941.6,1293.4 1945.9,1292.5 1950.1,1292.6 1953.5,1290.6 1956.9,1288.1 1960.3,1289.9 1963.8,1290.5 1967.2,1291.2 1970.6,1292.7 1973.1,1295.1 1975.7,1297.0 1979.9,1297.1 1984.2,1297.1 1987.6,1299.3 1991.0,1300.6 1993.6,1303.2 1996.1,1304.7 1998.7,1306.4 2001.2,1308.1 2005.5,1309.2 2009.8,1310.2 2014.0,1311.5 2018.3,1311.8 2020.6,1313.6 2022.8,1315.7 2025.1,1318.3 2027.7,1320.1 2030.2,1322.2 2033.6,1321.9 2037.0,1321.2 2040.5,1321.2 2043.9,1321.8 2047.3,1321.9 2050.7,1322.5 2053.2,1323.9 2055.8,1324.8 2058.4,1326.6 2060.9,1329.1 2064.5,1329.4 2068.2,1329.7 2071.8,1328.9 2075.4,1329.1 2077.5,1329.1"/>
</g>
<g font-family="Liberation Sans, Arial, sans-serif" style="font-kerning:none" font-size="65" fill="#000" text-anchor="middle">
<text transform="translate(337.3,1494.6) scale(1,1.033)">2600</text>
<text transform="translate(646.7,1494.6) scale(1,1.033)">2650</text>
<text transform="translate(958.0,1494.6) scale(1,1.033)">2700</text>
<text transform="translate(1267.3,1494.6) scale(1,1.033)">2750</text>
<text transform="translate(1576.5,1494.6) scale(1,1.033)">2800</text>
<text transform="translate(1887.9,1494.6) scale(1,1.033)">2850</text>
</g>
<g font-family="Liberation Sans, Arial, sans-serif" style="font-kerning:none" font-size="65" fill="#000" text-anchor="end">
<text transform="translate(282,1405.3) scale(1,1.033)">0.00</text>
<text transform="translate(282,1106.8) scale(1,1.033)">0.01</text>
<text transform="translate(282,807.9) scale(1,1.033)">0.02</text>
<text transform="translate(282,510.8) scale(1,1.033)">0.03</text>
<text transform="translate(282,212.1) scale(1,1.033)">0.04</text>
</g>
<text font-family="Liberation Sans, Arial, sans-serif" style="font-kerning:none" font-size="70" x="1165.3" y="1628.8" text-anchor="middle">Wavelength, nm</text>
<text font-family="Liberation Sans, Arial, sans-serif" style="font-kerning:none" font-size="70" transform="translate(83,691.5) rotate(-90)" text-anchor="middle">Spectral intensity, arb. u.</text>
<rect x="1666.3" y="87" width="349.7" height="519.7" fill="#fff" stroke="#000" stroke-width="2.2"/>
<path d="M1663.4,116.5l2,-3.2H1785.7l2,3.2l-2,3.2H1665.4z" fill="#515151"/>
<text font-family="Liberation Sans, Arial, sans-serif" style="font-kerning:none" font-size="53.3" x="1797.3" y="132.7">0.41 mJ</text>
<path d="M1663.4,182l2,-3.2H1785.7l2,3.2l-2,3.2H1665.4z" fill="#FA3E3E"/>
<text font-family="Liberation Sans, Arial, sans-serif" style="font-kerning:none" font-size="53.3" x="1797.3" y="198.2">0.82 mJ</text>
<path d="M1663.4,247.5l2,-3.2H1785.7l2,3.2l-2,3.2H1665.4z" fill="#006CE2"/>
<text font-family="Liberation Sans, Arial, sans-serif" style="font-kerning:none" font-size="53.3" x="1797.3" y="263.7">1.23 mJ</text>
<path d="M1663.4,311l2,-3.2H1785.7l2,3.2l-2,3.2H1665.4z" fill="#00AE68"/>
<text font-family="Liberation Sans, Arial, sans-serif" style="font-kerning:none" font-size="53.3" x="1797.3" y="327.2">1.64 mJ</text>
<path d="M1663.4,375.75l2,-3.2H1785.7l2,3.2l-2,3.2H1665.4z" fill="#C279E6"/>
<text font-family="Liberation Sans, Arial, sans-serif" style="font-kerning:none" font-size="53.3" x="1797.3" y="391.9">2.05 mJ</text>
<path d="M1663.4,440.75l2,-3.2H1785.7l2,3.2l-2,3.2H1665.4z" fill="#DC9B00"/>
<text font-family="Liberation Sans, Arial, sans-serif" style="font-kerning:none" font-size="53.3" x="1797.3" y="456.9">2.46 mJ</text>
<path d="M1663.4,506.5l2,-3.2H1785.7l2,3.2l-2,3.2H1665.4z" fill="#920000"/>
<text font-family="Liberation Sans, Arial, sans-serif" style="font-kerning:none" font-size="53.3" x="1797.3" y="522.7">3.28 mJ</text>
<path d="M1663.4,571.5l2,-3.2H1785.7l2,3.2l-2,3.2H1665.4z" fill="#8E8E00"/>
<text font-family="Liberation Sans, Arial, sans-serif" style="font-kerning:none" font-size="53.3" x="1797.3" y="587.7">3.69 mJ</text>
</svg>
</body></html>
